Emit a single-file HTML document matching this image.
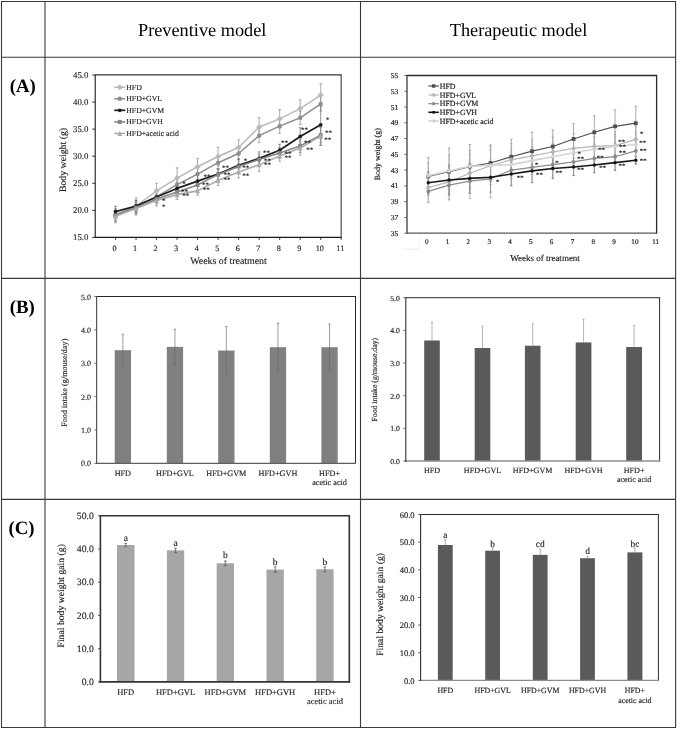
<!DOCTYPE html>
<html>
<head>
<meta charset="utf-8">
<title>Figure</title>
<style>
html, body { margin: 0; padding: 0; background: #ffffff; }
body { width: 677px; height: 729px; overflow: hidden; font-family: "Liberation Serif", serif; }
svg { display: block; will-change: transform; }
svg text { text-rendering: geometricPrecision; }
</style>
</head>
<body>
<svg width="677" height="729" viewBox="0 0 677 729">
<rect x="0" y="0" width="677" height="729" fill="#ffffff"/>
<line x1="1.50" y1="1.00" x2="1.50" y2="728.00" stroke="#3a3a3a" stroke-width="1.1" />
<line x1="45.00" y1="1.00" x2="45.00" y2="728.00" stroke="#3a3a3a" stroke-width="1.1" />
<line x1="360.50" y1="1.00" x2="360.50" y2="728.00" stroke="#3a3a3a" stroke-width="1.1" />
<line x1="675.60" y1="1.00" x2="675.60" y2="728.00" stroke="#3a3a3a" stroke-width="1.1" />
<line x1="1.00" y1="1.50" x2="676.00" y2="1.50" stroke="#3a3a3a" stroke-width="1.1" />
<line x1="1.00" y1="57.20" x2="676.00" y2="57.20" stroke="#3a3a3a" stroke-width="1.1" />
<line x1="1.00" y1="278.40" x2="676.00" y2="278.40" stroke="#3a3a3a" stroke-width="1.1" />
<line x1="1.00" y1="499.40" x2="676.00" y2="499.40" stroke="#3a3a3a" stroke-width="1.1" />
<line x1="1.00" y1="727.50" x2="676.00" y2="727.50" stroke="#3a3a3a" stroke-width="1.1" />
<text x="202.20" y="36.10" font-family='"Liberation Serif", serif' font-size="18.3" text-anchor="middle" font-weight="normal" fill="#000" >Preventive model</text>
<text x="518.50" y="36.10" font-family='"Liberation Serif", serif' font-size="18.3" text-anchor="middle" font-weight="normal" fill="#000" >Therapeutic model</text>
<text x="22.70" y="92.10" font-family='"Liberation Serif", serif' font-size="18.8" text-anchor="middle" font-weight="bold" fill="#000" >(A)</text>
<text x="22.20" y="313.00" font-family='"Liberation Serif", serif' font-size="18.8" text-anchor="middle" font-weight="bold" fill="#000" >(B)</text>
<text x="21.60" y="533.90" font-family='"Liberation Serif", serif' font-size="18.8" text-anchor="middle" font-weight="bold" fill="#000" >(C)</text>
<line x1="94.70" y1="74.85" x2="341.65" y2="74.85" stroke="#333" stroke-width="1.05" />
<line x1="341.15" y1="74.85" x2="341.15" y2="237.90" stroke="#333" stroke-width="1.05" />
<line x1="95.20" y1="75.00" x2="95.20" y2="237.90" stroke="#1a1a1a" stroke-width="1.1" />
<line x1="94.70" y1="237.40" x2="341.50" y2="237.40" stroke="#1a1a1a" stroke-width="1.1" />
<line x1="92.20" y1="237.40" x2="95.20" y2="237.40" stroke="#222" stroke-width="0.9" />
<text x="88.40" y="240.40" font-family='"Liberation Serif", serif' font-size="8.8" text-anchor="end" font-weight="normal" fill="#222" stroke="#222" stroke-width="0.14">15.0</text>
<line x1="92.20" y1="210.33" x2="95.20" y2="210.33" stroke="#222" stroke-width="0.9" />
<text x="88.40" y="213.33" font-family='"Liberation Serif", serif' font-size="8.8" text-anchor="end" font-weight="normal" fill="#222" stroke="#222" stroke-width="0.14">20.0</text>
<line x1="92.20" y1="183.27" x2="95.20" y2="183.27" stroke="#222" stroke-width="0.9" />
<text x="88.40" y="186.27" font-family='"Liberation Serif", serif' font-size="8.8" text-anchor="end" font-weight="normal" fill="#222" stroke="#222" stroke-width="0.14">25.0</text>
<line x1="92.20" y1="156.20" x2="95.20" y2="156.20" stroke="#222" stroke-width="0.9" />
<text x="88.40" y="159.20" font-family='"Liberation Serif", serif' font-size="8.8" text-anchor="end" font-weight="normal" fill="#222" stroke="#222" stroke-width="0.14">30.0</text>
<line x1="92.20" y1="129.13" x2="95.20" y2="129.13" stroke="#222" stroke-width="0.9" />
<text x="88.40" y="132.13" font-family='"Liberation Serif", serif' font-size="8.8" text-anchor="end" font-weight="normal" fill="#222" stroke="#222" stroke-width="0.14">35.0</text>
<line x1="92.20" y1="102.07" x2="95.20" y2="102.07" stroke="#222" stroke-width="0.9" />
<text x="88.40" y="105.07" font-family='"Liberation Serif", serif' font-size="8.8" text-anchor="end" font-weight="normal" fill="#222" stroke="#222" stroke-width="0.14">40.0</text>
<line x1="92.20" y1="75.00" x2="95.20" y2="75.00" stroke="#222" stroke-width="0.9" />
<text x="88.40" y="78.00" font-family='"Liberation Serif", serif' font-size="8.8" text-anchor="end" font-weight="normal" fill="#222" stroke="#222" stroke-width="0.14">45.0</text>
<line x1="115.50" y1="237.40" x2="115.50" y2="239.90" stroke="#222" stroke-width="0.9" />
<text x="114.60" y="250.80" font-family='"Liberation Serif", serif' font-size="8.2" text-anchor="middle" font-weight="normal" fill="#222" stroke="#222" stroke-width="0.14">0</text>
<line x1="136.02" y1="237.40" x2="136.02" y2="239.90" stroke="#222" stroke-width="0.9" />
<text x="135.12" y="250.80" font-family='"Liberation Serif", serif' font-size="8.2" text-anchor="middle" font-weight="normal" fill="#222" stroke="#222" stroke-width="0.14">1</text>
<line x1="156.54" y1="237.40" x2="156.54" y2="239.90" stroke="#222" stroke-width="0.9" />
<text x="155.64" y="250.80" font-family='"Liberation Serif", serif' font-size="8.2" text-anchor="middle" font-weight="normal" fill="#222" stroke="#222" stroke-width="0.14">2</text>
<line x1="177.06" y1="237.40" x2="177.06" y2="239.90" stroke="#222" stroke-width="0.9" />
<text x="176.16" y="250.80" font-family='"Liberation Serif", serif' font-size="8.2" text-anchor="middle" font-weight="normal" fill="#222" stroke="#222" stroke-width="0.14">3</text>
<line x1="197.58" y1="237.40" x2="197.58" y2="239.90" stroke="#222" stroke-width="0.9" />
<text x="196.68" y="250.80" font-family='"Liberation Serif", serif' font-size="8.2" text-anchor="middle" font-weight="normal" fill="#222" stroke="#222" stroke-width="0.14">4</text>
<line x1="218.10" y1="237.40" x2="218.10" y2="239.90" stroke="#222" stroke-width="0.9" />
<text x="217.20" y="250.80" font-family='"Liberation Serif", serif' font-size="8.2" text-anchor="middle" font-weight="normal" fill="#222" stroke="#222" stroke-width="0.14">5</text>
<line x1="238.62" y1="237.40" x2="238.62" y2="239.90" stroke="#222" stroke-width="0.9" />
<text x="237.72" y="250.80" font-family='"Liberation Serif", serif' font-size="8.2" text-anchor="middle" font-weight="normal" fill="#222" stroke="#222" stroke-width="0.14">6</text>
<line x1="259.14" y1="237.40" x2="259.14" y2="239.90" stroke="#222" stroke-width="0.9" />
<text x="258.24" y="250.80" font-family='"Liberation Serif", serif' font-size="8.2" text-anchor="middle" font-weight="normal" fill="#222" stroke="#222" stroke-width="0.14">7</text>
<line x1="279.66" y1="237.40" x2="279.66" y2="239.90" stroke="#222" stroke-width="0.9" />
<text x="278.76" y="250.80" font-family='"Liberation Serif", serif' font-size="8.2" text-anchor="middle" font-weight="normal" fill="#222" stroke="#222" stroke-width="0.14">8</text>
<line x1="300.18" y1="237.40" x2="300.18" y2="239.90" stroke="#222" stroke-width="0.9" />
<text x="299.28" y="250.80" font-family='"Liberation Serif", serif' font-size="8.2" text-anchor="middle" font-weight="normal" fill="#222" stroke="#222" stroke-width="0.14">9</text>
<line x1="320.70" y1="237.40" x2="320.70" y2="239.90" stroke="#222" stroke-width="0.9" />
<text x="319.80" y="250.80" font-family='"Liberation Serif", serif' font-size="8.2" text-anchor="middle" font-weight="normal" fill="#222" stroke="#222" stroke-width="0.14">10</text>
<line x1="341.22" y1="237.40" x2="341.22" y2="239.90" stroke="#222" stroke-width="0.9" />
<text x="340.32" y="250.80" font-family='"Liberation Serif", serif' font-size="8.2" text-anchor="middle" font-weight="normal" fill="#222" stroke="#222" stroke-width="0.14">11</text>
<text transform="translate(65.50,160.00) rotate(-90)" font-family='"Liberation Serif", serif' font-size="9.8" text-anchor="middle" font-weight="normal" fill="#222" stroke="#222" stroke-width="0.14">Body weight (g)</text>
<text x="228.50" y="263.80" font-family='"Liberation Serif", serif' font-size="9.9" text-anchor="middle" font-weight="normal" fill="#222" stroke="#222" stroke-width="0.14">Weeks of treatment</text>
<line x1="115.50" y1="208.71" x2="115.50" y2="222.78" stroke="#8a8a8a" stroke-width="0.7" />
<line x1="114.10" y1="208.71" x2="116.90" y2="208.71" stroke="#8a8a8a" stroke-width="0.7" />
<line x1="114.10" y1="222.78" x2="116.90" y2="222.78" stroke="#8a8a8a" stroke-width="0.7" />
<line x1="136.02" y1="197.88" x2="136.02" y2="214.12" stroke="#8a8a8a" stroke-width="0.7" />
<line x1="134.62" y1="197.88" x2="137.42" y2="197.88" stroke="#8a8a8a" stroke-width="0.7" />
<line x1="134.62" y1="214.12" x2="137.42" y2="214.12" stroke="#8a8a8a" stroke-width="0.7" />
<line x1="156.54" y1="183.27" x2="156.54" y2="198.42" stroke="#8a8a8a" stroke-width="0.7" />
<line x1="155.14" y1="183.27" x2="157.94" y2="183.27" stroke="#8a8a8a" stroke-width="0.7" />
<line x1="155.14" y1="198.42" x2="157.94" y2="198.42" stroke="#8a8a8a" stroke-width="0.7" />
<line x1="177.06" y1="167.84" x2="177.06" y2="188.41" stroke="#8a8a8a" stroke-width="0.7" />
<line x1="175.66" y1="167.84" x2="178.46" y2="167.84" stroke="#8a8a8a" stroke-width="0.7" />
<line x1="175.66" y1="188.41" x2="178.46" y2="188.41" stroke="#8a8a8a" stroke-width="0.7" />
<line x1="197.58" y1="158.64" x2="197.58" y2="174.88" stroke="#8a8a8a" stroke-width="0.7" />
<line x1="196.18" y1="158.64" x2="198.98" y2="158.64" stroke="#8a8a8a" stroke-width="0.7" />
<line x1="196.18" y1="174.88" x2="198.98" y2="174.88" stroke="#8a8a8a" stroke-width="0.7" />
<line x1="218.10" y1="147.27" x2="218.10" y2="165.67" stroke="#8a8a8a" stroke-width="0.7" />
<line x1="216.70" y1="147.27" x2="219.50" y2="147.27" stroke="#8a8a8a" stroke-width="0.7" />
<line x1="216.70" y1="165.67" x2="219.50" y2="165.67" stroke="#8a8a8a" stroke-width="0.7" />
<line x1="238.62" y1="139.96" x2="238.62" y2="155.12" stroke="#8a8a8a" stroke-width="0.7" />
<line x1="237.22" y1="139.96" x2="240.02" y2="139.96" stroke="#8a8a8a" stroke-width="0.7" />
<line x1="237.22" y1="155.12" x2="240.02" y2="155.12" stroke="#8a8a8a" stroke-width="0.7" />
<line x1="259.14" y1="117.77" x2="259.14" y2="136.17" stroke="#8a8a8a" stroke-width="0.7" />
<line x1="257.74" y1="117.77" x2="260.54" y2="117.77" stroke="#8a8a8a" stroke-width="0.7" />
<line x1="257.74" y1="136.17" x2="260.54" y2="136.17" stroke="#8a8a8a" stroke-width="0.7" />
<line x1="279.66" y1="109.65" x2="279.66" y2="128.05" stroke="#8a8a8a" stroke-width="0.7" />
<line x1="278.26" y1="109.65" x2="281.06" y2="109.65" stroke="#8a8a8a" stroke-width="0.7" />
<line x1="278.26" y1="128.05" x2="281.06" y2="128.05" stroke="#8a8a8a" stroke-width="0.7" />
<line x1="300.18" y1="99.90" x2="300.18" y2="117.22" stroke="#8a8a8a" stroke-width="0.7" />
<line x1="298.78" y1="99.90" x2="301.58" y2="99.90" stroke="#8a8a8a" stroke-width="0.7" />
<line x1="298.78" y1="117.22" x2="301.58" y2="117.22" stroke="#8a8a8a" stroke-width="0.7" />
<line x1="320.70" y1="83.66" x2="320.70" y2="106.40" stroke="#8a8a8a" stroke-width="0.7" />
<line x1="319.30" y1="83.66" x2="322.10" y2="83.66" stroke="#8a8a8a" stroke-width="0.7" />
<line x1="319.30" y1="106.40" x2="322.10" y2="106.40" stroke="#8a8a8a" stroke-width="0.7" />
<line x1="115.50" y1="209.25" x2="115.50" y2="220.08" stroke="#8a8a8a" stroke-width="0.7" />
<line x1="114.10" y1="209.25" x2="116.90" y2="209.25" stroke="#8a8a8a" stroke-width="0.7" />
<line x1="114.10" y1="220.08" x2="116.90" y2="220.08" stroke="#8a8a8a" stroke-width="0.7" />
<line x1="136.02" y1="200.05" x2="136.02" y2="213.04" stroke="#8a8a8a" stroke-width="0.7" />
<line x1="134.62" y1="200.05" x2="137.42" y2="200.05" stroke="#8a8a8a" stroke-width="0.7" />
<line x1="134.62" y1="213.04" x2="137.42" y2="213.04" stroke="#8a8a8a" stroke-width="0.7" />
<line x1="156.54" y1="191.39" x2="156.54" y2="202.21" stroke="#8a8a8a" stroke-width="0.7" />
<line x1="155.14" y1="191.39" x2="157.94" y2="191.39" stroke="#8a8a8a" stroke-width="0.7" />
<line x1="155.14" y1="202.21" x2="157.94" y2="202.21" stroke="#8a8a8a" stroke-width="0.7" />
<line x1="177.06" y1="178.67" x2="177.06" y2="190.57" stroke="#8a8a8a" stroke-width="0.7" />
<line x1="175.66" y1="178.67" x2="178.46" y2="178.67" stroke="#8a8a8a" stroke-width="0.7" />
<line x1="175.66" y1="190.57" x2="178.46" y2="190.57" stroke="#8a8a8a" stroke-width="0.7" />
<line x1="197.58" y1="167.57" x2="197.58" y2="180.56" stroke="#8a8a8a" stroke-width="0.7" />
<line x1="196.18" y1="167.57" x2="198.98" y2="167.57" stroke="#8a8a8a" stroke-width="0.7" />
<line x1="196.18" y1="180.56" x2="198.98" y2="180.56" stroke="#8a8a8a" stroke-width="0.7" />
<line x1="218.10" y1="156.20" x2="218.10" y2="169.19" stroke="#8a8a8a" stroke-width="0.7" />
<line x1="216.70" y1="156.20" x2="219.50" y2="156.20" stroke="#8a8a8a" stroke-width="0.7" />
<line x1="216.70" y1="169.19" x2="219.50" y2="169.19" stroke="#8a8a8a" stroke-width="0.7" />
<line x1="238.62" y1="147.54" x2="238.62" y2="159.45" stroke="#8a8a8a" stroke-width="0.7" />
<line x1="237.22" y1="147.54" x2="240.02" y2="147.54" stroke="#8a8a8a" stroke-width="0.7" />
<line x1="237.22" y1="159.45" x2="240.02" y2="159.45" stroke="#8a8a8a" stroke-width="0.7" />
<line x1="259.14" y1="128.59" x2="259.14" y2="142.67" stroke="#8a8a8a" stroke-width="0.7" />
<line x1="257.74" y1="128.59" x2="260.54" y2="128.59" stroke="#8a8a8a" stroke-width="0.7" />
<line x1="257.74" y1="142.67" x2="260.54" y2="142.67" stroke="#8a8a8a" stroke-width="0.7" />
<line x1="279.66" y1="119.12" x2="279.66" y2="133.19" stroke="#8a8a8a" stroke-width="0.7" />
<line x1="278.26" y1="119.12" x2="281.06" y2="119.12" stroke="#8a8a8a" stroke-width="0.7" />
<line x1="278.26" y1="133.19" x2="281.06" y2="133.19" stroke="#8a8a8a" stroke-width="0.7" />
<line x1="300.18" y1="111.27" x2="300.18" y2="124.26" stroke="#8a8a8a" stroke-width="0.7" />
<line x1="298.78" y1="111.27" x2="301.58" y2="111.27" stroke="#8a8a8a" stroke-width="0.7" />
<line x1="298.78" y1="124.26" x2="301.58" y2="124.26" stroke="#8a8a8a" stroke-width="0.7" />
<line x1="320.70" y1="96.92" x2="320.70" y2="111.00" stroke="#8a8a8a" stroke-width="0.7" />
<line x1="319.30" y1="96.92" x2="322.10" y2="96.92" stroke="#8a8a8a" stroke-width="0.7" />
<line x1="319.30" y1="111.00" x2="322.10" y2="111.00" stroke="#8a8a8a" stroke-width="0.7" />
<line x1="115.50" y1="206.27" x2="115.50" y2="217.10" stroke="#666" stroke-width="0.7" />
<line x1="114.10" y1="206.27" x2="116.90" y2="206.27" stroke="#666" stroke-width="0.7" />
<line x1="114.10" y1="217.10" x2="116.90" y2="217.10" stroke="#666" stroke-width="0.7" />
<line x1="136.02" y1="200.59" x2="136.02" y2="211.42" stroke="#666" stroke-width="0.7" />
<line x1="134.62" y1="200.59" x2="137.42" y2="200.59" stroke="#666" stroke-width="0.7" />
<line x1="134.62" y1="211.42" x2="137.42" y2="211.42" stroke="#666" stroke-width="0.7" />
<line x1="156.54" y1="191.66" x2="156.54" y2="202.48" stroke="#666" stroke-width="0.7" />
<line x1="155.14" y1="191.66" x2="157.94" y2="191.66" stroke="#666" stroke-width="0.7" />
<line x1="155.14" y1="202.48" x2="157.94" y2="202.48" stroke="#666" stroke-width="0.7" />
<line x1="177.06" y1="183.00" x2="177.06" y2="193.82" stroke="#666" stroke-width="0.7" />
<line x1="175.66" y1="183.00" x2="178.46" y2="183.00" stroke="#666" stroke-width="0.7" />
<line x1="175.66" y1="193.82" x2="178.46" y2="193.82" stroke="#666" stroke-width="0.7" />
<line x1="197.58" y1="175.69" x2="197.58" y2="186.51" stroke="#666" stroke-width="0.7" />
<line x1="196.18" y1="175.69" x2="198.98" y2="175.69" stroke="#666" stroke-width="0.7" />
<line x1="196.18" y1="186.51" x2="198.98" y2="186.51" stroke="#666" stroke-width="0.7" />
<line x1="218.10" y1="168.65" x2="218.10" y2="179.48" stroke="#666" stroke-width="0.7" />
<line x1="216.70" y1="168.65" x2="219.50" y2="168.65" stroke="#666" stroke-width="0.7" />
<line x1="216.70" y1="179.48" x2="219.50" y2="179.48" stroke="#666" stroke-width="0.7" />
<line x1="238.62" y1="158.91" x2="238.62" y2="171.90" stroke="#666" stroke-width="0.7" />
<line x1="237.22" y1="158.91" x2="240.02" y2="158.91" stroke="#666" stroke-width="0.7" />
<line x1="237.22" y1="171.90" x2="240.02" y2="171.90" stroke="#666" stroke-width="0.7" />
<line x1="259.14" y1="151.87" x2="259.14" y2="164.86" stroke="#666" stroke-width="0.7" />
<line x1="257.74" y1="151.87" x2="260.54" y2="151.87" stroke="#666" stroke-width="0.7" />
<line x1="257.74" y1="164.86" x2="260.54" y2="164.86" stroke="#666" stroke-width="0.7" />
<line x1="279.66" y1="144.29" x2="279.66" y2="156.20" stroke="#666" stroke-width="0.7" />
<line x1="278.26" y1="144.29" x2="281.06" y2="144.29" stroke="#666" stroke-width="0.7" />
<line x1="278.26" y1="156.20" x2="281.06" y2="156.20" stroke="#666" stroke-width="0.7" />
<line x1="300.18" y1="127.78" x2="300.18" y2="145.10" stroke="#666" stroke-width="0.7" />
<line x1="298.78" y1="127.78" x2="301.58" y2="127.78" stroke="#666" stroke-width="0.7" />
<line x1="298.78" y1="145.10" x2="301.58" y2="145.10" stroke="#666" stroke-width="0.7" />
<line x1="320.70" y1="104.23" x2="320.70" y2="145.37" stroke="#666" stroke-width="0.7" />
<line x1="319.30" y1="104.23" x2="322.10" y2="104.23" stroke="#666" stroke-width="0.7" />
<line x1="319.30" y1="145.37" x2="322.10" y2="145.37" stroke="#666" stroke-width="0.7" />
<line x1="115.50" y1="210.87" x2="115.50" y2="220.62" stroke="#8a8a8a" stroke-width="0.7" />
<line x1="114.10" y1="210.87" x2="116.90" y2="210.87" stroke="#8a8a8a" stroke-width="0.7" />
<line x1="114.10" y1="220.62" x2="116.90" y2="220.62" stroke="#8a8a8a" stroke-width="0.7" />
<line x1="136.02" y1="202.75" x2="136.02" y2="212.50" stroke="#8a8a8a" stroke-width="0.7" />
<line x1="134.62" y1="202.75" x2="137.42" y2="202.75" stroke="#8a8a8a" stroke-width="0.7" />
<line x1="134.62" y1="212.50" x2="137.42" y2="212.50" stroke="#8a8a8a" stroke-width="0.7" />
<line x1="156.54" y1="194.09" x2="156.54" y2="203.84" stroke="#8a8a8a" stroke-width="0.7" />
<line x1="155.14" y1="194.09" x2="157.94" y2="194.09" stroke="#8a8a8a" stroke-width="0.7" />
<line x1="155.14" y1="203.84" x2="157.94" y2="203.84" stroke="#8a8a8a" stroke-width="0.7" />
<line x1="177.06" y1="187.06" x2="177.06" y2="196.80" stroke="#8a8a8a" stroke-width="0.7" />
<line x1="175.66" y1="187.06" x2="178.46" y2="187.06" stroke="#8a8a8a" stroke-width="0.7" />
<line x1="175.66" y1="196.80" x2="178.46" y2="196.80" stroke="#8a8a8a" stroke-width="0.7" />
<line x1="197.58" y1="180.02" x2="197.58" y2="189.76" stroke="#8a8a8a" stroke-width="0.7" />
<line x1="196.18" y1="180.02" x2="198.98" y2="180.02" stroke="#8a8a8a" stroke-width="0.7" />
<line x1="196.18" y1="189.76" x2="198.98" y2="189.76" stroke="#8a8a8a" stroke-width="0.7" />
<line x1="218.10" y1="169.19" x2="218.10" y2="180.02" stroke="#8a8a8a" stroke-width="0.7" />
<line x1="216.70" y1="169.19" x2="219.50" y2="169.19" stroke="#8a8a8a" stroke-width="0.7" />
<line x1="216.70" y1="180.02" x2="219.50" y2="180.02" stroke="#8a8a8a" stroke-width="0.7" />
<line x1="238.62" y1="161.07" x2="238.62" y2="171.90" stroke="#8a8a8a" stroke-width="0.7" />
<line x1="237.22" y1="161.07" x2="240.02" y2="161.07" stroke="#8a8a8a" stroke-width="0.7" />
<line x1="237.22" y1="171.90" x2="240.02" y2="171.90" stroke="#8a8a8a" stroke-width="0.7" />
<line x1="259.14" y1="154.03" x2="259.14" y2="164.86" stroke="#8a8a8a" stroke-width="0.7" />
<line x1="257.74" y1="154.03" x2="260.54" y2="154.03" stroke="#8a8a8a" stroke-width="0.7" />
<line x1="257.74" y1="164.86" x2="260.54" y2="164.86" stroke="#8a8a8a" stroke-width="0.7" />
<line x1="279.66" y1="147.54" x2="279.66" y2="158.37" stroke="#8a8a8a" stroke-width="0.7" />
<line x1="278.26" y1="147.54" x2="281.06" y2="147.54" stroke="#8a8a8a" stroke-width="0.7" />
<line x1="278.26" y1="158.37" x2="281.06" y2="158.37" stroke="#8a8a8a" stroke-width="0.7" />
<line x1="300.18" y1="139.42" x2="300.18" y2="152.41" stroke="#8a8a8a" stroke-width="0.7" />
<line x1="298.78" y1="139.42" x2="301.58" y2="139.42" stroke="#8a8a8a" stroke-width="0.7" />
<line x1="298.78" y1="152.41" x2="301.58" y2="152.41" stroke="#8a8a8a" stroke-width="0.7" />
<line x1="320.70" y1="127.51" x2="320.70" y2="142.67" stroke="#8a8a8a" stroke-width="0.7" />
<line x1="319.30" y1="127.51" x2="322.10" y2="127.51" stroke="#8a8a8a" stroke-width="0.7" />
<line x1="319.30" y1="142.67" x2="322.10" y2="142.67" stroke="#8a8a8a" stroke-width="0.7" />
<line x1="115.50" y1="210.87" x2="115.50" y2="221.70" stroke="#8a8a8a" stroke-width="0.7" />
<line x1="114.10" y1="210.87" x2="116.90" y2="210.87" stroke="#8a8a8a" stroke-width="0.7" />
<line x1="114.10" y1="221.70" x2="116.90" y2="221.70" stroke="#8a8a8a" stroke-width="0.7" />
<line x1="136.02" y1="201.94" x2="136.02" y2="214.93" stroke="#8a8a8a" stroke-width="0.7" />
<line x1="134.62" y1="201.94" x2="137.42" y2="201.94" stroke="#8a8a8a" stroke-width="0.7" />
<line x1="134.62" y1="214.93" x2="137.42" y2="214.93" stroke="#8a8a8a" stroke-width="0.7" />
<line x1="156.54" y1="195.18" x2="156.54" y2="206.00" stroke="#8a8a8a" stroke-width="0.7" />
<line x1="155.14" y1="195.18" x2="157.94" y2="195.18" stroke="#8a8a8a" stroke-width="0.7" />
<line x1="155.14" y1="206.00" x2="157.94" y2="206.00" stroke="#8a8a8a" stroke-width="0.7" />
<line x1="177.06" y1="189.76" x2="177.06" y2="199.51" stroke="#8a8a8a" stroke-width="0.7" />
<line x1="175.66" y1="189.76" x2="178.46" y2="189.76" stroke="#8a8a8a" stroke-width="0.7" />
<line x1="175.66" y1="199.51" x2="178.46" y2="199.51" stroke="#8a8a8a" stroke-width="0.7" />
<line x1="197.58" y1="186.51" x2="197.58" y2="195.18" stroke="#8a8a8a" stroke-width="0.7" />
<line x1="196.18" y1="186.51" x2="198.98" y2="186.51" stroke="#8a8a8a" stroke-width="0.7" />
<line x1="196.18" y1="195.18" x2="198.98" y2="195.18" stroke="#8a8a8a" stroke-width="0.7" />
<line x1="218.10" y1="175.69" x2="218.10" y2="185.43" stroke="#8a8a8a" stroke-width="0.7" />
<line x1="216.70" y1="175.69" x2="219.50" y2="175.69" stroke="#8a8a8a" stroke-width="0.7" />
<line x1="216.70" y1="185.43" x2="219.50" y2="185.43" stroke="#8a8a8a" stroke-width="0.7" />
<line x1="238.62" y1="165.94" x2="238.62" y2="177.85" stroke="#8a8a8a" stroke-width="0.7" />
<line x1="237.22" y1="165.94" x2="240.02" y2="165.94" stroke="#8a8a8a" stroke-width="0.7" />
<line x1="237.22" y1="177.85" x2="240.02" y2="177.85" stroke="#8a8a8a" stroke-width="0.7" />
<line x1="259.14" y1="158.37" x2="259.14" y2="171.36" stroke="#8a8a8a" stroke-width="0.7" />
<line x1="257.74" y1="158.37" x2="260.54" y2="158.37" stroke="#8a8a8a" stroke-width="0.7" />
<line x1="257.74" y1="171.36" x2="260.54" y2="171.36" stroke="#8a8a8a" stroke-width="0.7" />
<line x1="279.66" y1="150.52" x2="279.66" y2="161.34" stroke="#8a8a8a" stroke-width="0.7" />
<line x1="278.26" y1="150.52" x2="281.06" y2="150.52" stroke="#8a8a8a" stroke-width="0.7" />
<line x1="278.26" y1="161.34" x2="281.06" y2="161.34" stroke="#8a8a8a" stroke-width="0.7" />
<line x1="300.18" y1="141.04" x2="300.18" y2="155.12" stroke="#8a8a8a" stroke-width="0.7" />
<line x1="298.78" y1="141.04" x2="301.58" y2="141.04" stroke="#8a8a8a" stroke-width="0.7" />
<line x1="298.78" y1="155.12" x2="301.58" y2="155.12" stroke="#8a8a8a" stroke-width="0.7" />
<line x1="320.70" y1="126.97" x2="320.70" y2="145.37" stroke="#8a8a8a" stroke-width="0.7" />
<line x1="319.30" y1="126.97" x2="322.10" y2="126.97" stroke="#8a8a8a" stroke-width="0.7" />
<line x1="319.30" y1="145.37" x2="322.10" y2="145.37" stroke="#8a8a8a" stroke-width="0.7" />
<polyline points="115.50,215.75 136.02,206.00 156.54,190.85 177.06,178.12 197.58,166.76 218.10,156.47 238.62,147.54 259.14,126.97 279.66,118.85 300.18,108.56 320.70,95.03" fill="none" stroke="#b9b9b9" stroke-width="1.5" stroke-linejoin="round"/>
<path d="M115.50,212.75 L118.50,215.75 L115.50,218.75 L112.50,215.75 Z" fill="#b9b9b9"/>
<path d="M136.02,203.00 L139.02,206.00 L136.02,209.00 L133.02,206.00 Z" fill="#b9b9b9"/>
<path d="M156.54,187.85 L159.54,190.85 L156.54,193.85 L153.54,190.85 Z" fill="#b9b9b9"/>
<path d="M177.06,175.12 L180.06,178.12 L177.06,181.12 L174.06,178.12 Z" fill="#b9b9b9"/>
<path d="M197.58,163.76 L200.58,166.76 L197.58,169.76 L194.58,166.76 Z" fill="#b9b9b9"/>
<path d="M218.10,153.47 L221.10,156.47 L218.10,159.47 L215.10,156.47 Z" fill="#b9b9b9"/>
<path d="M238.62,144.54 L241.62,147.54 L238.62,150.54 L235.62,147.54 Z" fill="#b9b9b9"/>
<path d="M259.14,123.97 L262.14,126.97 L259.14,129.97 L256.14,126.97 Z" fill="#b9b9b9"/>
<path d="M279.66,115.85 L282.66,118.85 L279.66,121.85 L276.66,118.85 Z" fill="#b9b9b9"/>
<path d="M300.18,105.56 L303.18,108.56 L300.18,111.56 L297.18,108.56 Z" fill="#b9b9b9"/>
<path d="M320.70,92.03 L323.70,95.03 L320.70,98.03 L317.70,95.03 Z" fill="#b9b9b9"/>
<polyline points="115.50,214.66 136.02,206.54 156.54,196.80 177.06,184.62 197.58,174.06 218.10,162.70 238.62,153.49 259.14,135.63 279.66,126.16 300.18,117.77 320.70,103.96" fill="none" stroke="#8d8d8d" stroke-width="1.5" stroke-linejoin="round"/>
<circle cx="115.50" cy="214.66" r="2.20" fill="#8d8d8d"/>
<circle cx="136.02" cy="206.54" r="2.20" fill="#8d8d8d"/>
<circle cx="156.54" cy="196.80" r="2.20" fill="#8d8d8d"/>
<circle cx="177.06" cy="184.62" r="2.20" fill="#8d8d8d"/>
<circle cx="197.58" cy="174.06" r="2.20" fill="#8d8d8d"/>
<circle cx="218.10" cy="162.70" r="2.20" fill="#8d8d8d"/>
<circle cx="238.62" cy="153.49" r="2.20" fill="#8d8d8d"/>
<circle cx="259.14" cy="135.63" r="2.20" fill="#8d8d8d"/>
<circle cx="279.66" cy="126.16" r="2.20" fill="#8d8d8d"/>
<circle cx="300.18" cy="117.77" r="2.20" fill="#8d8d8d"/>
<circle cx="320.70" cy="103.96" r="2.20" fill="#8d8d8d"/>
<polyline points="115.50,211.69 136.02,206.00 156.54,197.07 177.06,188.41 197.58,181.10 218.10,174.06 238.62,165.40 259.14,158.37 279.66,150.25 300.18,136.44 320.70,124.80" fill="none" stroke="#1c1c1c" stroke-width="1.7" stroke-linejoin="round"/>
<circle cx="115.50" cy="211.69" r="1.90" fill="#1c1c1c"/>
<circle cx="136.02" cy="206.00" r="1.90" fill="#1c1c1c"/>
<circle cx="156.54" cy="197.07" r="1.90" fill="#1c1c1c"/>
<circle cx="177.06" cy="188.41" r="1.90" fill="#1c1c1c"/>
<circle cx="197.58" cy="181.10" r="1.90" fill="#1c1c1c"/>
<circle cx="218.10" cy="174.06" r="1.90" fill="#1c1c1c"/>
<circle cx="238.62" cy="165.40" r="1.90" fill="#1c1c1c"/>
<circle cx="259.14" cy="158.37" r="1.90" fill="#1c1c1c"/>
<circle cx="279.66" cy="150.25" r="1.90" fill="#1c1c1c"/>
<circle cx="300.18" cy="136.44" r="1.90" fill="#1c1c1c"/>
<circle cx="320.70" cy="124.80" r="1.90" fill="#1c1c1c"/>
<polyline points="115.50,215.75 136.02,207.63 156.54,198.97 177.06,191.93 197.58,184.89 218.10,174.61 238.62,166.49 259.14,159.45 279.66,152.95 300.18,145.91 320.70,135.09" fill="none" stroke="#868686" stroke-width="1.6" stroke-linejoin="round"/>
<rect x="113.50" y="213.75" width="4.00" height="4.00" fill="#868686" stroke="none" stroke-width="1" />
<rect x="134.02" y="205.63" width="4.00" height="4.00" fill="#868686" stroke="none" stroke-width="1" />
<rect x="154.54" y="196.97" width="4.00" height="4.00" fill="#868686" stroke="none" stroke-width="1" />
<rect x="175.06" y="189.93" width="4.00" height="4.00" fill="#868686" stroke="none" stroke-width="1" />
<rect x="195.58" y="182.89" width="4.00" height="4.00" fill="#868686" stroke="none" stroke-width="1" />
<rect x="216.10" y="172.61" width="4.00" height="4.00" fill="#868686" stroke="none" stroke-width="1" />
<rect x="236.62" y="164.49" width="4.00" height="4.00" fill="#868686" stroke="none" stroke-width="1" />
<rect x="257.14" y="157.45" width="4.00" height="4.00" fill="#868686" stroke="none" stroke-width="1" />
<rect x="277.66" y="150.95" width="4.00" height="4.00" fill="#868686" stroke="none" stroke-width="1" />
<rect x="298.18" y="143.91" width="4.00" height="4.00" fill="#868686" stroke="none" stroke-width="1" />
<rect x="318.70" y="133.09" width="4.00" height="4.00" fill="#868686" stroke="none" stroke-width="1" />
<polyline points="115.50,216.29 136.02,208.44 156.54,200.59 177.06,194.63 197.58,190.85 218.10,180.56 238.62,171.90 259.14,164.86 279.66,155.93 300.18,148.08 320.70,136.17" fill="none" stroke="#acacac" stroke-width="1.6" stroke-linejoin="round"/>
<path d="M115.50,213.79 L118.00,218.79 L113.00,218.79 Z" fill="#acacac"/>
<path d="M136.02,205.94 L138.52,210.94 L133.52,210.94 Z" fill="#acacac"/>
<path d="M156.54,198.09 L159.04,203.09 L154.04,203.09 Z" fill="#acacac"/>
<path d="M177.06,192.13 L179.56,197.13 L174.56,197.13 Z" fill="#acacac"/>
<path d="M197.58,188.35 L200.08,193.35 L195.08,193.35 Z" fill="#acacac"/>
<path d="M218.10,178.06 L220.60,183.06 L215.60,183.06 Z" fill="#acacac"/>
<path d="M238.62,169.40 L241.12,174.40 L236.12,174.40 Z" fill="#acacac"/>
<path d="M259.14,162.36 L261.64,167.36 L256.64,167.36 Z" fill="#acacac"/>
<path d="M279.66,153.43 L282.16,158.43 L277.16,158.43 Z" fill="#acacac"/>
<path d="M300.18,145.58 L302.68,150.58 L297.68,150.58 Z" fill="#acacac"/>
<path d="M320.70,133.67 L323.20,138.67 L318.20,138.67 Z" fill="#acacac"/>
<line x1="114.30" y1="87.20" x2="125.30" y2="87.20" stroke="#b9b9b9" stroke-width="1.5" />
<path d="M119.80,84.20 L122.80,87.20 L119.80,90.20 L116.80,87.20 Z" fill="#b9b9b9"/>
<text x="126.30" y="89.60" font-family='"Liberation Serif", serif' font-size="7.72" text-anchor="start" font-weight="normal" fill="#222" stroke="#222" stroke-width="0.14">HFD</text>
<line x1="114.30" y1="98.80" x2="125.30" y2="98.80" stroke="#8d8d8d" stroke-width="1.5" />
<circle cx="119.80" cy="98.80" r="2.20" fill="#8d8d8d"/>
<text x="126.30" y="101.20" font-family='"Liberation Serif", serif' font-size="7.72" text-anchor="start" font-weight="normal" fill="#222" stroke="#222" stroke-width="0.14">HFD+GVL</text>
<line x1="114.30" y1="110.30" x2="125.30" y2="110.30" stroke="#1c1c1c" stroke-width="1.7" />
<circle cx="119.80" cy="110.30" r="1.90" fill="#1c1c1c"/>
<text x="126.30" y="112.70" font-family='"Liberation Serif", serif' font-size="7.72" text-anchor="start" font-weight="normal" fill="#222" stroke="#222" stroke-width="0.14">HFD+GVM</text>
<line x1="114.30" y1="121.90" x2="125.30" y2="121.90" stroke="#868686" stroke-width="1.6" />
<rect x="117.80" y="119.90" width="4.00" height="4.00" fill="#868686" stroke="none" stroke-width="1" />
<text x="126.30" y="124.30" font-family='"Liberation Serif", serif' font-size="7.72" text-anchor="start" font-weight="normal" fill="#222" stroke="#222" stroke-width="0.14">HFD+GVH</text>
<line x1="114.30" y1="133.40" x2="125.30" y2="133.40" stroke="#acacac" stroke-width="1.6" />
<path d="M119.80,130.90 L122.30,135.90 L117.30,135.90 Z" fill="#acacac"/>
<text x="126.30" y="135.80" font-family='"Liberation Serif", serif' font-size="7.72" text-anchor="start" font-weight="normal" fill="#222" stroke="#222" stroke-width="0.14">HFD+acetic acid</text>
<text x="163.80" y="202.89" font-family='"Liberation Serif", serif' font-size="7.0" text-anchor="middle" font-weight="normal" fill="#1a1a1a" stroke="#1a1a1a" stroke-width="0.1">*</text>
<text x="163.80" y="208.79" font-family='"Liberation Serif", serif' font-size="7.0" text-anchor="middle" font-weight="normal" fill="#1a1a1a" stroke="#1a1a1a" stroke-width="0.1">*</text>
<text x="183.90" y="185.79" font-family='"Liberation Serif", serif' font-size="7.0" text-anchor="middle" font-weight="normal" fill="#1a1a1a" stroke="#1a1a1a" stroke-width="0.1">*</text>
<text x="184.60" y="193.59" font-family='"Liberation Serif", serif' font-size="7.0" text-anchor="middle" font-weight="normal" fill="#1a1a1a" stroke="#1a1a1a" stroke-width="0.1">**</text>
<text x="185.70" y="197.99" font-family='"Liberation Serif", serif' font-size="7.0" text-anchor="middle" font-weight="normal" fill="#1a1a1a" stroke="#1a1a1a" stroke-width="0.1">**</text>
<text x="207.00" y="178.79" font-family='"Liberation Serif", serif' font-size="7.0" text-anchor="middle" font-weight="normal" fill="#1a1a1a" stroke="#1a1a1a" stroke-width="0.1">**</text>
<text x="205.50" y="187.29" font-family='"Liberation Serif", serif' font-size="7.0" text-anchor="middle" font-weight="normal" fill="#1a1a1a" stroke="#1a1a1a" stroke-width="0.1">**</text>
<text x="206.20" y="192.29" font-family='"Liberation Serif", serif' font-size="7.0" text-anchor="middle" font-weight="normal" fill="#1a1a1a" stroke="#1a1a1a" stroke-width="0.1">**</text>
<text x="225.50" y="169.89" font-family='"Liberation Serif", serif' font-size="7.0" text-anchor="middle" font-weight="normal" fill="#1a1a1a" stroke="#1a1a1a" stroke-width="0.1">**</text>
<text x="227.00" y="177.29" font-family='"Liberation Serif", serif' font-size="7.0" text-anchor="middle" font-weight="normal" fill="#1a1a1a" stroke="#1a1a1a" stroke-width="0.1">**</text>
<text x="227.00" y="181.79" font-family='"Liberation Serif", serif' font-size="7.0" text-anchor="middle" font-weight="normal" fill="#1a1a1a" stroke="#1a1a1a" stroke-width="0.1">**</text>
<text x="245.40" y="162.79" font-family='"Liberation Serif", serif' font-size="7.0" text-anchor="middle" font-weight="normal" fill="#1a1a1a" stroke="#1a1a1a" stroke-width="0.1">*</text>
<text x="245.80" y="170.29" font-family='"Liberation Serif", serif' font-size="7.0" text-anchor="middle" font-weight="normal" fill="#1a1a1a" stroke="#1a1a1a" stroke-width="0.1">**</text>
<text x="245.80" y="177.59" font-family='"Liberation Serif", serif' font-size="7.0" text-anchor="middle" font-weight="normal" fill="#1a1a1a" stroke="#1a1a1a" stroke-width="0.1">**</text>
<text x="266.40" y="155.19" font-family='"Liberation Serif", serif' font-size="7.0" text-anchor="middle" font-weight="normal" fill="#1a1a1a" stroke="#1a1a1a" stroke-width="0.1">**</text>
<text x="267.50" y="162.79" font-family='"Liberation Serif", serif' font-size="7.0" text-anchor="middle" font-weight="normal" fill="#1a1a1a" stroke="#1a1a1a" stroke-width="0.1">**</text>
<text x="267.50" y="167.29" font-family='"Liberation Serif", serif' font-size="7.0" text-anchor="middle" font-weight="normal" fill="#1a1a1a" stroke="#1a1a1a" stroke-width="0.1">**</text>
<text x="284.50" y="144.79" font-family='"Liberation Serif", serif' font-size="7.0" text-anchor="middle" font-weight="normal" fill="#1a1a1a" stroke="#1a1a1a" stroke-width="0.1">**</text>
<text x="288.00" y="155.79" font-family='"Liberation Serif", serif' font-size="7.0" text-anchor="middle" font-weight="normal" fill="#1a1a1a" stroke="#1a1a1a" stroke-width="0.1">**</text>
<text x="288.00" y="159.59" font-family='"Liberation Serif", serif' font-size="7.0" text-anchor="middle" font-weight="normal" fill="#1a1a1a" stroke="#1a1a1a" stroke-width="0.1">**</text>
<text x="304.50" y="132.49" font-family='"Liberation Serif", serif' font-size="7.0" text-anchor="middle" font-weight="normal" fill="#1a1a1a" stroke="#1a1a1a" stroke-width="0.1">**</text>
<text x="307.40" y="144.79" font-family='"Liberation Serif", serif' font-size="7.0" text-anchor="middle" font-weight="normal" fill="#1a1a1a" stroke="#1a1a1a" stroke-width="0.1">**</text>
<text x="309.70" y="151.69" font-family='"Liberation Serif", serif' font-size="7.0" text-anchor="middle" font-weight="normal" fill="#1a1a1a" stroke="#1a1a1a" stroke-width="0.1">**</text>
<text x="327.40" y="122.19" font-family='"Liberation Serif", serif' font-size="7.0" text-anchor="middle" font-weight="normal" fill="#1a1a1a" stroke="#1a1a1a" stroke-width="0.1">*</text>
<text x="328.40" y="134.89" font-family='"Liberation Serif", serif' font-size="7.0" text-anchor="middle" font-weight="normal" fill="#1a1a1a" stroke="#1a1a1a" stroke-width="0.1">**</text>
<text x="327.70" y="142.09" font-family='"Liberation Serif", serif' font-size="7.0" text-anchor="middle" font-weight="normal" fill="#1a1a1a" stroke="#1a1a1a" stroke-width="0.1">**</text>
<line x1="406.40" y1="75.50" x2="657.20" y2="75.50" stroke="#2a2a2a" stroke-width="1.3" />
<line x1="656.60" y1="75.50" x2="656.60" y2="233.80" stroke="#2a2a2a" stroke-width="1.3" />
<line x1="407.00" y1="75.50" x2="407.00" y2="233.80" stroke="#585858" stroke-width="1.5" />
<line x1="406.40" y1="233.20" x2="657.20" y2="233.20" stroke="#585858" stroke-width="1.3" />
<line x1="404.40" y1="233.20" x2="407.00" y2="233.20" stroke="#555" stroke-width="0.9" />
<text x="398.40" y="235.80" font-family='"Liberation Serif", serif' font-size="7.6" text-anchor="end" font-weight="normal" fill="#1a1a1a" stroke="#222" stroke-width="0.18">35</text>
<line x1="404.40" y1="217.43" x2="407.00" y2="217.43" stroke="#555" stroke-width="0.9" />
<text x="398.40" y="220.03" font-family='"Liberation Serif", serif' font-size="7.6" text-anchor="end" font-weight="normal" fill="#1a1a1a" stroke="#222" stroke-width="0.18">37</text>
<line x1="404.40" y1="201.66" x2="407.00" y2="201.66" stroke="#555" stroke-width="0.9" />
<text x="398.40" y="204.26" font-family='"Liberation Serif", serif' font-size="7.6" text-anchor="end" font-weight="normal" fill="#1a1a1a" stroke="#222" stroke-width="0.18">39</text>
<line x1="404.40" y1="185.89" x2="407.00" y2="185.89" stroke="#555" stroke-width="0.9" />
<text x="398.40" y="188.49" font-family='"Liberation Serif", serif' font-size="7.6" text-anchor="end" font-weight="normal" fill="#1a1a1a" stroke="#222" stroke-width="0.18">41</text>
<line x1="404.40" y1="170.12" x2="407.00" y2="170.12" stroke="#555" stroke-width="0.9" />
<text x="398.40" y="172.72" font-family='"Liberation Serif", serif' font-size="7.6" text-anchor="end" font-weight="normal" fill="#1a1a1a" stroke="#222" stroke-width="0.18">43</text>
<line x1="404.40" y1="154.35" x2="407.00" y2="154.35" stroke="#555" stroke-width="0.9" />
<text x="398.40" y="156.95" font-family='"Liberation Serif", serif' font-size="7.6" text-anchor="end" font-weight="normal" fill="#1a1a1a" stroke="#222" stroke-width="0.18">45</text>
<line x1="404.40" y1="138.58" x2="407.00" y2="138.58" stroke="#555" stroke-width="0.9" />
<text x="398.40" y="141.18" font-family='"Liberation Serif", serif' font-size="7.6" text-anchor="end" font-weight="normal" fill="#1a1a1a" stroke="#222" stroke-width="0.18">47</text>
<line x1="404.40" y1="122.81" x2="407.00" y2="122.81" stroke="#555" stroke-width="0.9" />
<text x="398.40" y="125.41" font-family='"Liberation Serif", serif' font-size="7.6" text-anchor="end" font-weight="normal" fill="#1a1a1a" stroke="#222" stroke-width="0.18">49</text>
<line x1="404.40" y1="107.04" x2="407.00" y2="107.04" stroke="#555" stroke-width="0.9" />
<text x="398.40" y="109.64" font-family='"Liberation Serif", serif' font-size="7.6" text-anchor="end" font-weight="normal" fill="#1a1a1a" stroke="#222" stroke-width="0.18">51</text>
<line x1="404.40" y1="91.27" x2="407.00" y2="91.27" stroke="#555" stroke-width="0.9" />
<text x="398.40" y="93.87" font-family='"Liberation Serif", serif' font-size="7.6" text-anchor="end" font-weight="normal" fill="#1a1a1a" stroke="#222" stroke-width="0.18">53</text>
<line x1="404.40" y1="75.50" x2="407.00" y2="75.50" stroke="#555" stroke-width="0.9" />
<text x="398.40" y="78.10" font-family='"Liberation Serif", serif' font-size="7.6" text-anchor="end" font-weight="normal" fill="#1a1a1a" stroke="#222" stroke-width="0.18">55</text>
<text x="426.70" y="244.10" font-family='"Liberation Serif", serif' font-size="7.1" text-anchor="middle" font-weight="normal" fill="#1a1a1a" stroke="#222" stroke-width="0.18">0</text>
<text x="447.52" y="244.10" font-family='"Liberation Serif", serif' font-size="7.1" text-anchor="middle" font-weight="normal" fill="#1a1a1a" stroke="#222" stroke-width="0.18">1</text>
<text x="468.34" y="244.10" font-family='"Liberation Serif", serif' font-size="7.1" text-anchor="middle" font-weight="normal" fill="#1a1a1a" stroke="#222" stroke-width="0.18">2</text>
<text x="489.16" y="244.10" font-family='"Liberation Serif", serif' font-size="7.1" text-anchor="middle" font-weight="normal" fill="#1a1a1a" stroke="#222" stroke-width="0.18">3</text>
<text x="509.98" y="244.10" font-family='"Liberation Serif", serif' font-size="7.1" text-anchor="middle" font-weight="normal" fill="#1a1a1a" stroke="#222" stroke-width="0.18">4</text>
<text x="530.80" y="244.10" font-family='"Liberation Serif", serif' font-size="7.1" text-anchor="middle" font-weight="normal" fill="#1a1a1a" stroke="#222" stroke-width="0.18">5</text>
<text x="551.62" y="244.10" font-family='"Liberation Serif", serif' font-size="7.1" text-anchor="middle" font-weight="normal" fill="#1a1a1a" stroke="#222" stroke-width="0.18">6</text>
<text x="572.44" y="244.10" font-family='"Liberation Serif", serif' font-size="7.1" text-anchor="middle" font-weight="normal" fill="#1a1a1a" stroke="#222" stroke-width="0.18">7</text>
<text x="593.26" y="244.10" font-family='"Liberation Serif", serif' font-size="7.1" text-anchor="middle" font-weight="normal" fill="#1a1a1a" stroke="#222" stroke-width="0.18">8</text>
<text x="614.08" y="244.10" font-family='"Liberation Serif", serif' font-size="7.1" text-anchor="middle" font-weight="normal" fill="#1a1a1a" stroke="#222" stroke-width="0.18">9</text>
<text x="634.90" y="244.10" font-family='"Liberation Serif", serif' font-size="7.1" text-anchor="middle" font-weight="normal" fill="#1a1a1a" stroke="#222" stroke-width="0.18">10</text>
<text x="655.72" y="244.10" font-family='"Liberation Serif", serif' font-size="7.1" text-anchor="middle" font-weight="normal" fill="#1a1a1a" stroke="#222" stroke-width="0.18">11</text>
<text transform="translate(380.00,154.20) rotate(-90)" font-family='"Liberation Serif", serif' font-size="7.95" text-anchor="middle" font-weight="normal" fill="#1a1a1a" stroke="#222" stroke-width="0.18">Body weight (g)</text>
<line x1="401.60" y1="249.20" x2="418.80" y2="249.20" stroke="#ececec" stroke-width="1.0" />
<line x1="419.60" y1="237.00" x2="419.60" y2="248.60" stroke="#f2f2f2" stroke-width="1.0" />
<text x="545.00" y="260.90" font-family='"Liberation Serif", serif' font-size="9.0" text-anchor="middle" font-weight="normal" fill="#1a1a1a" stroke="#1a1a1a" stroke-width="0.14">Weeks of treatment</text>
<line x1="428.30" y1="157.50" x2="428.30" y2="195.35" stroke="#858585" stroke-width="0.7" />
<line x1="427.10" y1="157.50" x2="429.50" y2="157.50" stroke="#858585" stroke-width="0.7" />
<line x1="427.10" y1="195.35" x2="429.50" y2="195.35" stroke="#858585" stroke-width="0.7" />
<line x1="449.05" y1="148.04" x2="449.05" y2="195.35" stroke="#858585" stroke-width="0.7" />
<line x1="447.85" y1="148.04" x2="450.25" y2="148.04" stroke="#858585" stroke-width="0.7" />
<line x1="447.85" y1="195.35" x2="450.25" y2="195.35" stroke="#858585" stroke-width="0.7" />
<line x1="469.80" y1="144.49" x2="469.80" y2="188.65" stroke="#858585" stroke-width="0.7" />
<line x1="468.60" y1="144.49" x2="471.00" y2="144.49" stroke="#858585" stroke-width="0.7" />
<line x1="468.60" y1="188.65" x2="471.00" y2="188.65" stroke="#858585" stroke-width="0.7" />
<line x1="490.55" y1="144.89" x2="490.55" y2="181.16" stroke="#858585" stroke-width="0.7" />
<line x1="489.35" y1="144.89" x2="491.75" y2="144.89" stroke="#858585" stroke-width="0.7" />
<line x1="489.35" y1="181.16" x2="491.75" y2="181.16" stroke="#858585" stroke-width="0.7" />
<line x1="511.30" y1="139.37" x2="511.30" y2="174.06" stroke="#858585" stroke-width="0.7" />
<line x1="510.10" y1="139.37" x2="512.50" y2="139.37" stroke="#858585" stroke-width="0.7" />
<line x1="510.10" y1="174.06" x2="512.50" y2="174.06" stroke="#858585" stroke-width="0.7" />
<line x1="532.05" y1="132.27" x2="532.05" y2="170.12" stroke="#858585" stroke-width="0.7" />
<line x1="530.85" y1="132.27" x2="533.25" y2="132.27" stroke="#858585" stroke-width="0.7" />
<line x1="530.85" y1="170.12" x2="533.25" y2="170.12" stroke="#858585" stroke-width="0.7" />
<line x1="552.80" y1="129.91" x2="552.80" y2="163.02" stroke="#858585" stroke-width="0.7" />
<line x1="551.60" y1="129.91" x2="554.00" y2="129.91" stroke="#858585" stroke-width="0.7" />
<line x1="551.60" y1="163.02" x2="554.00" y2="163.02" stroke="#858585" stroke-width="0.7" />
<line x1="573.55" y1="123.60" x2="573.55" y2="154.35" stroke="#858585" stroke-width="0.7" />
<line x1="572.35" y1="123.60" x2="574.75" y2="123.60" stroke="#858585" stroke-width="0.7" />
<line x1="572.35" y1="154.35" x2="574.75" y2="154.35" stroke="#858585" stroke-width="0.7" />
<line x1="594.30" y1="115.71" x2="594.30" y2="148.83" stroke="#858585" stroke-width="0.7" />
<line x1="593.10" y1="115.71" x2="595.50" y2="115.71" stroke="#858585" stroke-width="0.7" />
<line x1="593.10" y1="148.83" x2="595.50" y2="148.83" stroke="#858585" stroke-width="0.7" />
<line x1="615.05" y1="109.80" x2="615.05" y2="142.92" stroke="#858585" stroke-width="0.7" />
<line x1="613.85" y1="109.80" x2="616.25" y2="109.80" stroke="#858585" stroke-width="0.7" />
<line x1="613.85" y1="142.92" x2="616.25" y2="142.92" stroke="#858585" stroke-width="0.7" />
<line x1="635.80" y1="106.25" x2="635.80" y2="140.16" stroke="#858585" stroke-width="0.7" />
<line x1="634.60" y1="106.25" x2="637.00" y2="106.25" stroke="#858585" stroke-width="0.7" />
<line x1="634.60" y1="140.16" x2="637.00" y2="140.16" stroke="#858585" stroke-width="0.7" />
<line x1="428.30" y1="172.49" x2="428.30" y2="202.45" stroke="#a5a5a5" stroke-width="0.7" />
<line x1="427.10" y1="172.49" x2="429.50" y2="172.49" stroke="#a5a5a5" stroke-width="0.7" />
<line x1="427.10" y1="202.45" x2="429.50" y2="202.45" stroke="#a5a5a5" stroke-width="0.7" />
<line x1="449.05" y1="164.60" x2="449.05" y2="199.29" stroke="#a5a5a5" stroke-width="0.7" />
<line x1="447.85" y1="164.60" x2="450.25" y2="164.60" stroke="#a5a5a5" stroke-width="0.7" />
<line x1="447.85" y1="199.29" x2="450.25" y2="199.29" stroke="#a5a5a5" stroke-width="0.7" />
<line x1="469.80" y1="154.35" x2="469.80" y2="192.20" stroke="#a5a5a5" stroke-width="0.7" />
<line x1="468.60" y1="154.35" x2="471.00" y2="154.35" stroke="#a5a5a5" stroke-width="0.7" />
<line x1="468.60" y1="192.20" x2="471.00" y2="192.20" stroke="#a5a5a5" stroke-width="0.7" />
<line x1="490.55" y1="146.86" x2="490.55" y2="184.71" stroke="#a5a5a5" stroke-width="0.7" />
<line x1="489.35" y1="146.86" x2="491.75" y2="146.86" stroke="#a5a5a5" stroke-width="0.7" />
<line x1="489.35" y1="184.71" x2="491.75" y2="184.71" stroke="#a5a5a5" stroke-width="0.7" />
<line x1="511.30" y1="143.31" x2="511.30" y2="176.43" stroke="#a5a5a5" stroke-width="0.7" />
<line x1="510.10" y1="143.31" x2="512.50" y2="143.31" stroke="#a5a5a5" stroke-width="0.7" />
<line x1="510.10" y1="176.43" x2="512.50" y2="176.43" stroke="#a5a5a5" stroke-width="0.7" />
<line x1="532.05" y1="140.16" x2="532.05" y2="171.70" stroke="#a5a5a5" stroke-width="0.7" />
<line x1="530.85" y1="140.16" x2="533.25" y2="140.16" stroke="#a5a5a5" stroke-width="0.7" />
<line x1="530.85" y1="171.70" x2="533.25" y2="171.70" stroke="#a5a5a5" stroke-width="0.7" />
<line x1="552.80" y1="137.00" x2="552.80" y2="166.97" stroke="#a5a5a5" stroke-width="0.7" />
<line x1="551.60" y1="137.00" x2="554.00" y2="137.00" stroke="#a5a5a5" stroke-width="0.7" />
<line x1="551.60" y1="166.97" x2="554.00" y2="166.97" stroke="#a5a5a5" stroke-width="0.7" />
<line x1="573.55" y1="133.45" x2="573.55" y2="163.42" stroke="#a5a5a5" stroke-width="0.7" />
<line x1="572.35" y1="133.45" x2="574.75" y2="133.45" stroke="#a5a5a5" stroke-width="0.7" />
<line x1="572.35" y1="163.42" x2="574.75" y2="163.42" stroke="#a5a5a5" stroke-width="0.7" />
<line x1="594.30" y1="132.27" x2="594.30" y2="160.66" stroke="#a5a5a5" stroke-width="0.7" />
<line x1="593.10" y1="132.27" x2="595.50" y2="132.27" stroke="#a5a5a5" stroke-width="0.7" />
<line x1="593.10" y1="160.66" x2="595.50" y2="160.66" stroke="#a5a5a5" stroke-width="0.7" />
<line x1="615.05" y1="131.48" x2="615.05" y2="159.87" stroke="#a5a5a5" stroke-width="0.7" />
<line x1="613.85" y1="131.48" x2="616.25" y2="131.48" stroke="#a5a5a5" stroke-width="0.7" />
<line x1="613.85" y1="159.87" x2="616.25" y2="159.87" stroke="#a5a5a5" stroke-width="0.7" />
<line x1="635.80" y1="125.96" x2="635.80" y2="152.77" stroke="#a5a5a5" stroke-width="0.7" />
<line x1="634.60" y1="125.96" x2="637.00" y2="125.96" stroke="#a5a5a5" stroke-width="0.7" />
<line x1="634.60" y1="152.77" x2="637.00" y2="152.77" stroke="#a5a5a5" stroke-width="0.7" />
<line x1="428.30" y1="180.37" x2="428.30" y2="202.45" stroke="#a5a5a5" stroke-width="0.7" />
<line x1="427.10" y1="180.37" x2="429.50" y2="180.37" stroke="#a5a5a5" stroke-width="0.7" />
<line x1="427.10" y1="202.45" x2="429.50" y2="202.45" stroke="#a5a5a5" stroke-width="0.7" />
<line x1="449.05" y1="170.12" x2="449.05" y2="200.08" stroke="#a5a5a5" stroke-width="0.7" />
<line x1="447.85" y1="170.12" x2="450.25" y2="170.12" stroke="#a5a5a5" stroke-width="0.7" />
<line x1="447.85" y1="200.08" x2="450.25" y2="200.08" stroke="#a5a5a5" stroke-width="0.7" />
<line x1="469.80" y1="163.81" x2="469.80" y2="198.51" stroke="#a5a5a5" stroke-width="0.7" />
<line x1="468.60" y1="163.81" x2="471.00" y2="163.81" stroke="#a5a5a5" stroke-width="0.7" />
<line x1="468.60" y1="198.51" x2="471.00" y2="198.51" stroke="#a5a5a5" stroke-width="0.7" />
<line x1="490.55" y1="159.87" x2="490.55" y2="197.72" stroke="#a5a5a5" stroke-width="0.7" />
<line x1="489.35" y1="159.87" x2="491.75" y2="159.87" stroke="#a5a5a5" stroke-width="0.7" />
<line x1="489.35" y1="197.72" x2="491.75" y2="197.72" stroke="#a5a5a5" stroke-width="0.7" />
<line x1="511.30" y1="155.14" x2="511.30" y2="185.10" stroke="#a5a5a5" stroke-width="0.7" />
<line x1="510.10" y1="155.14" x2="512.50" y2="155.14" stroke="#a5a5a5" stroke-width="0.7" />
<line x1="510.10" y1="185.10" x2="512.50" y2="185.10" stroke="#a5a5a5" stroke-width="0.7" />
<line x1="532.05" y1="152.38" x2="532.05" y2="182.34" stroke="#a5a5a5" stroke-width="0.7" />
<line x1="530.85" y1="152.38" x2="533.25" y2="152.38" stroke="#a5a5a5" stroke-width="0.7" />
<line x1="530.85" y1="182.34" x2="533.25" y2="182.34" stroke="#a5a5a5" stroke-width="0.7" />
<line x1="552.80" y1="151.20" x2="552.80" y2="178.00" stroke="#a5a5a5" stroke-width="0.7" />
<line x1="551.60" y1="151.20" x2="554.00" y2="151.20" stroke="#a5a5a5" stroke-width="0.7" />
<line x1="551.60" y1="178.00" x2="554.00" y2="178.00" stroke="#a5a5a5" stroke-width="0.7" />
<line x1="573.55" y1="148.44" x2="573.55" y2="175.25" stroke="#a5a5a5" stroke-width="0.7" />
<line x1="572.35" y1="148.44" x2="574.75" y2="148.44" stroke="#a5a5a5" stroke-width="0.7" />
<line x1="572.35" y1="175.25" x2="574.75" y2="175.25" stroke="#a5a5a5" stroke-width="0.7" />
<line x1="594.30" y1="144.10" x2="594.30" y2="172.49" stroke="#a5a5a5" stroke-width="0.7" />
<line x1="593.10" y1="144.10" x2="595.50" y2="144.10" stroke="#a5a5a5" stroke-width="0.7" />
<line x1="593.10" y1="172.49" x2="595.50" y2="172.49" stroke="#a5a5a5" stroke-width="0.7" />
<line x1="615.05" y1="143.31" x2="615.05" y2="170.12" stroke="#a5a5a5" stroke-width="0.7" />
<line x1="613.85" y1="143.31" x2="616.25" y2="143.31" stroke="#a5a5a5" stroke-width="0.7" />
<line x1="613.85" y1="170.12" x2="616.25" y2="170.12" stroke="#a5a5a5" stroke-width="0.7" />
<line x1="635.80" y1="138.19" x2="635.80" y2="163.42" stroke="#a5a5a5" stroke-width="0.7" />
<line x1="634.60" y1="138.19" x2="637.00" y2="138.19" stroke="#a5a5a5" stroke-width="0.7" />
<line x1="634.60" y1="163.42" x2="637.00" y2="163.42" stroke="#a5a5a5" stroke-width="0.7" />
<line x1="428.30" y1="171.70" x2="428.30" y2="193.77" stroke="#777" stroke-width="0.7" />
<line x1="427.10" y1="171.70" x2="429.50" y2="171.70" stroke="#777" stroke-width="0.7" />
<line x1="427.10" y1="193.77" x2="429.50" y2="193.77" stroke="#777" stroke-width="0.7" />
<line x1="449.05" y1="165.78" x2="449.05" y2="194.17" stroke="#777" stroke-width="0.7" />
<line x1="447.85" y1="165.78" x2="450.25" y2="165.78" stroke="#777" stroke-width="0.7" />
<line x1="447.85" y1="194.17" x2="450.25" y2="194.17" stroke="#777" stroke-width="0.7" />
<line x1="469.80" y1="163.42" x2="469.80" y2="193.38" stroke="#777" stroke-width="0.7" />
<line x1="468.60" y1="163.42" x2="471.00" y2="163.42" stroke="#777" stroke-width="0.7" />
<line x1="468.60" y1="193.38" x2="471.00" y2="193.38" stroke="#777" stroke-width="0.7" />
<line x1="490.55" y1="162.23" x2="490.55" y2="192.20" stroke="#777" stroke-width="0.7" />
<line x1="489.35" y1="162.23" x2="491.75" y2="162.23" stroke="#777" stroke-width="0.7" />
<line x1="489.35" y1="192.20" x2="491.75" y2="192.20" stroke="#777" stroke-width="0.7" />
<line x1="511.30" y1="162.23" x2="511.30" y2="185.89" stroke="#777" stroke-width="0.7" />
<line x1="510.10" y1="162.23" x2="512.50" y2="162.23" stroke="#777" stroke-width="0.7" />
<line x1="510.10" y1="185.89" x2="512.50" y2="185.89" stroke="#777" stroke-width="0.7" />
<line x1="532.05" y1="159.08" x2="532.05" y2="182.74" stroke="#777" stroke-width="0.7" />
<line x1="530.85" y1="159.08" x2="533.25" y2="159.08" stroke="#777" stroke-width="0.7" />
<line x1="530.85" y1="182.74" x2="533.25" y2="182.74" stroke="#777" stroke-width="0.7" />
<line x1="552.80" y1="158.29" x2="552.80" y2="178.79" stroke="#777" stroke-width="0.7" />
<line x1="551.60" y1="158.29" x2="554.00" y2="158.29" stroke="#777" stroke-width="0.7" />
<line x1="551.60" y1="178.79" x2="554.00" y2="178.79" stroke="#777" stroke-width="0.7" />
<line x1="573.55" y1="158.29" x2="573.55" y2="175.64" stroke="#777" stroke-width="0.7" />
<line x1="572.35" y1="158.29" x2="574.75" y2="158.29" stroke="#777" stroke-width="0.7" />
<line x1="572.35" y1="175.64" x2="574.75" y2="175.64" stroke="#777" stroke-width="0.7" />
<line x1="594.30" y1="157.11" x2="594.30" y2="172.88" stroke="#777" stroke-width="0.7" />
<line x1="593.10" y1="157.11" x2="595.50" y2="157.11" stroke="#777" stroke-width="0.7" />
<line x1="593.10" y1="172.88" x2="595.50" y2="172.88" stroke="#777" stroke-width="0.7" />
<line x1="615.05" y1="154.74" x2="615.05" y2="170.51" stroke="#777" stroke-width="0.7" />
<line x1="613.85" y1="154.74" x2="616.25" y2="154.74" stroke="#777" stroke-width="0.7" />
<line x1="613.85" y1="170.51" x2="616.25" y2="170.51" stroke="#777" stroke-width="0.7" />
<line x1="635.80" y1="156.32" x2="635.80" y2="164.21" stroke="#777" stroke-width="0.7" />
<line x1="634.60" y1="156.32" x2="637.00" y2="156.32" stroke="#777" stroke-width="0.7" />
<line x1="634.60" y1="164.21" x2="637.00" y2="164.21" stroke="#777" stroke-width="0.7" />
<line x1="428.30" y1="163.02" x2="428.30" y2="188.26" stroke="#a5a5a5" stroke-width="0.7" />
<line x1="427.10" y1="163.02" x2="429.50" y2="163.02" stroke="#a5a5a5" stroke-width="0.7" />
<line x1="427.10" y1="188.26" x2="429.50" y2="188.26" stroke="#a5a5a5" stroke-width="0.7" />
<line x1="449.05" y1="155.14" x2="449.05" y2="186.68" stroke="#a5a5a5" stroke-width="0.7" />
<line x1="447.85" y1="155.14" x2="450.25" y2="155.14" stroke="#a5a5a5" stroke-width="0.7" />
<line x1="447.85" y1="186.68" x2="450.25" y2="186.68" stroke="#a5a5a5" stroke-width="0.7" />
<line x1="469.80" y1="150.41" x2="469.80" y2="181.95" stroke="#a5a5a5" stroke-width="0.7" />
<line x1="468.60" y1="150.41" x2="471.00" y2="150.41" stroke="#a5a5a5" stroke-width="0.7" />
<line x1="468.60" y1="181.95" x2="471.00" y2="181.95" stroke="#a5a5a5" stroke-width="0.7" />
<line x1="490.55" y1="149.62" x2="490.55" y2="181.16" stroke="#a5a5a5" stroke-width="0.7" />
<line x1="489.35" y1="149.62" x2="491.75" y2="149.62" stroke="#a5a5a5" stroke-width="0.7" />
<line x1="489.35" y1="181.16" x2="491.75" y2="181.16" stroke="#a5a5a5" stroke-width="0.7" />
<line x1="511.30" y1="150.41" x2="511.30" y2="178.79" stroke="#a5a5a5" stroke-width="0.7" />
<line x1="510.10" y1="150.41" x2="512.50" y2="150.41" stroke="#a5a5a5" stroke-width="0.7" />
<line x1="510.10" y1="178.79" x2="512.50" y2="178.79" stroke="#a5a5a5" stroke-width="0.7" />
<line x1="532.05" y1="146.47" x2="532.05" y2="174.85" stroke="#a5a5a5" stroke-width="0.7" />
<line x1="530.85" y1="146.47" x2="533.25" y2="146.47" stroke="#a5a5a5" stroke-width="0.7" />
<line x1="530.85" y1="174.85" x2="533.25" y2="174.85" stroke="#a5a5a5" stroke-width="0.7" />
<line x1="552.80" y1="143.31" x2="552.80" y2="170.12" stroke="#a5a5a5" stroke-width="0.7" />
<line x1="551.60" y1="143.31" x2="554.00" y2="143.31" stroke="#a5a5a5" stroke-width="0.7" />
<line x1="551.60" y1="170.12" x2="554.00" y2="170.12" stroke="#a5a5a5" stroke-width="0.7" />
<line x1="573.55" y1="140.16" x2="573.55" y2="165.39" stroke="#a5a5a5" stroke-width="0.7" />
<line x1="572.35" y1="140.16" x2="574.75" y2="140.16" stroke="#a5a5a5" stroke-width="0.7" />
<line x1="572.35" y1="165.39" x2="574.75" y2="165.39" stroke="#a5a5a5" stroke-width="0.7" />
<line x1="594.30" y1="136.61" x2="594.30" y2="161.84" stroke="#a5a5a5" stroke-width="0.7" />
<line x1="593.10" y1="136.61" x2="595.50" y2="136.61" stroke="#a5a5a5" stroke-width="0.7" />
<line x1="593.10" y1="161.84" x2="595.50" y2="161.84" stroke="#a5a5a5" stroke-width="0.7" />
<line x1="615.05" y1="134.64" x2="615.05" y2="158.29" stroke="#a5a5a5" stroke-width="0.7" />
<line x1="613.85" y1="134.64" x2="616.25" y2="134.64" stroke="#a5a5a5" stroke-width="0.7" />
<line x1="613.85" y1="158.29" x2="616.25" y2="158.29" stroke="#a5a5a5" stroke-width="0.7" />
<line x1="635.80" y1="132.67" x2="635.80" y2="156.32" stroke="#a5a5a5" stroke-width="0.7" />
<line x1="634.60" y1="132.67" x2="637.00" y2="132.67" stroke="#a5a5a5" stroke-width="0.7" />
<line x1="634.60" y1="156.32" x2="637.00" y2="156.32" stroke="#a5a5a5" stroke-width="0.7" />
<polyline points="428.30,176.43 449.05,171.70 469.80,166.57 490.55,163.02 511.30,156.72 532.05,151.20 552.80,146.47 573.55,138.97 594.30,132.27 615.05,126.36 635.80,123.20" fill="none" stroke="#4f4f4f" stroke-width="1.2" stroke-linejoin="round"/>
<rect x="426.40" y="174.53" width="3.80" height="3.80" fill="#4f4f4f" stroke="none" stroke-width="1" />
<rect x="447.15" y="169.80" width="3.80" height="3.80" fill="#4f4f4f" stroke="none" stroke-width="1" />
<rect x="467.90" y="164.67" width="3.80" height="3.80" fill="#4f4f4f" stroke="none" stroke-width="1" />
<rect x="488.65" y="161.12" width="3.80" height="3.80" fill="#4f4f4f" stroke="none" stroke-width="1" />
<rect x="509.40" y="154.82" width="3.80" height="3.80" fill="#4f4f4f" stroke="none" stroke-width="1" />
<rect x="530.15" y="149.30" width="3.80" height="3.80" fill="#4f4f4f" stroke="none" stroke-width="1" />
<rect x="550.90" y="144.56" width="3.80" height="3.80" fill="#4f4f4f" stroke="none" stroke-width="1" />
<rect x="571.65" y="137.07" width="3.80" height="3.80" fill="#4f4f4f" stroke="none" stroke-width="1" />
<rect x="592.40" y="130.37" width="3.80" height="3.80" fill="#4f4f4f" stroke="none" stroke-width="1" />
<rect x="613.15" y="124.46" width="3.80" height="3.80" fill="#4f4f4f" stroke="none" stroke-width="1" />
<rect x="633.90" y="121.30" width="3.80" height="3.80" fill="#4f4f4f" stroke="none" stroke-width="1" />
<polyline points="428.30,187.47 449.05,181.95 469.80,173.27 490.55,165.78 511.30,159.87 532.05,155.93 552.80,151.98 573.55,148.44 594.30,146.47 615.05,145.68 635.80,139.37" fill="none" stroke="#b5b5b5" stroke-width="1.2" stroke-linejoin="round"/>
<path d="M428.30,184.87 L430.90,187.47 L428.30,190.07 L425.70,187.47 Z" fill="#b5b5b5"/>
<path d="M449.05,179.35 L451.65,181.95 L449.05,184.55 L446.45,181.95 Z" fill="#b5b5b5"/>
<path d="M469.80,170.67 L472.40,173.27 L469.80,175.87 L467.20,173.27 Z" fill="#b5b5b5"/>
<path d="M490.55,163.18 L493.15,165.78 L490.55,168.38 L487.95,165.78 Z" fill="#b5b5b5"/>
<path d="M511.30,157.27 L513.90,159.87 L511.30,162.47 L508.70,159.87 Z" fill="#b5b5b5"/>
<path d="M532.05,153.33 L534.65,155.93 L532.05,158.53 L529.45,155.93 Z" fill="#b5b5b5"/>
<path d="M552.80,149.38 L555.40,151.98 L552.80,154.58 L550.20,151.98 Z" fill="#b5b5b5"/>
<path d="M573.55,145.84 L576.15,148.44 L573.55,151.04 L570.95,148.44 Z" fill="#b5b5b5"/>
<path d="M594.30,143.87 L596.90,146.47 L594.30,149.06 L591.70,146.47 Z" fill="#b5b5b5"/>
<path d="M615.05,143.08 L617.65,145.68 L615.05,148.28 L612.45,145.68 Z" fill="#b5b5b5"/>
<path d="M635.80,136.77 L638.40,139.37 L635.80,141.97 L633.20,139.37 Z" fill="#b5b5b5"/>
<polyline points="428.30,191.41 449.05,185.10 469.80,181.16 490.55,178.79 511.30,170.12 532.05,167.36 552.80,164.60 573.55,161.84 594.30,158.29 615.05,156.72 635.80,150.80" fill="none" stroke="#8a8a8a" stroke-width="1.2" stroke-linejoin="round"/>
<circle cx="428.30" cy="191.41" r="1.90" fill="#8a8a8a"/>
<circle cx="449.05" cy="185.10" r="1.90" fill="#8a8a8a"/>
<circle cx="469.80" cy="181.16" r="1.90" fill="#8a8a8a"/>
<circle cx="490.55" cy="178.79" r="1.90" fill="#8a8a8a"/>
<circle cx="511.30" cy="170.12" r="1.90" fill="#8a8a8a"/>
<circle cx="532.05" cy="167.36" r="1.90" fill="#8a8a8a"/>
<circle cx="552.80" cy="164.60" r="1.90" fill="#8a8a8a"/>
<circle cx="573.55" cy="161.84" r="1.90" fill="#8a8a8a"/>
<circle cx="594.30" cy="158.29" r="1.90" fill="#8a8a8a"/>
<circle cx="615.05" cy="156.72" r="1.90" fill="#8a8a8a"/>
<circle cx="635.80" cy="150.80" r="1.90" fill="#8a8a8a"/>
<polyline points="428.30,182.74 449.05,179.98 469.80,178.40 490.55,177.22 511.30,174.06 532.05,170.91 552.80,168.54 573.55,166.97 594.30,164.99 615.05,162.63 635.80,160.26" fill="none" stroke="#161616" stroke-width="1.6" stroke-linejoin="round"/>
<circle cx="428.30" cy="182.74" r="1.70" fill="#161616"/>
<circle cx="449.05" cy="179.98" r="1.70" fill="#161616"/>
<circle cx="469.80" cy="178.40" r="1.70" fill="#161616"/>
<circle cx="490.55" cy="177.22" r="1.70" fill="#161616"/>
<circle cx="511.30" cy="174.06" r="1.70" fill="#161616"/>
<circle cx="532.05" cy="170.91" r="1.70" fill="#161616"/>
<circle cx="552.80" cy="168.54" r="1.70" fill="#161616"/>
<circle cx="573.55" cy="166.97" r="1.70" fill="#161616"/>
<circle cx="594.30" cy="164.99" r="1.70" fill="#161616"/>
<circle cx="615.05" cy="162.63" r="1.70" fill="#161616"/>
<circle cx="635.80" cy="160.26" r="1.70" fill="#161616"/>
<polyline points="428.30,175.64 449.05,170.91 469.80,166.18 490.55,165.39 511.30,164.60 532.05,160.66 552.80,156.72 573.55,152.77 594.30,149.22 615.05,146.47 635.80,144.49" fill="none" stroke="#d4d4d4" stroke-width="1.6" stroke-linejoin="round"/>
<circle cx="428.30" cy="175.64" r="1.90" fill="#d4d4d4"/>
<circle cx="449.05" cy="170.91" r="1.90" fill="#d4d4d4"/>
<circle cx="469.80" cy="166.18" r="1.90" fill="#d4d4d4"/>
<circle cx="490.55" cy="165.39" r="1.90" fill="#d4d4d4"/>
<circle cx="511.30" cy="164.60" r="1.90" fill="#d4d4d4"/>
<circle cx="532.05" cy="160.66" r="1.90" fill="#d4d4d4"/>
<circle cx="552.80" cy="156.72" r="1.90" fill="#d4d4d4"/>
<circle cx="573.55" cy="152.77" r="1.90" fill="#d4d4d4"/>
<circle cx="594.30" cy="149.22" r="1.90" fill="#d4d4d4"/>
<circle cx="615.05" cy="146.47" r="1.90" fill="#d4d4d4"/>
<circle cx="635.80" cy="144.49" r="1.90" fill="#d4d4d4"/>
<line x1="428.40" y1="86.00" x2="438.90" y2="86.00" stroke="#4f4f4f" stroke-width="1.2" />
<rect x="431.94" y="84.29" width="3.42" height="3.42" fill="#4f4f4f" stroke="none" stroke-width="1" />
<text x="439.80" y="88.60" font-family='"Liberation Serif", serif' font-size="7.86" text-anchor="start" font-weight="normal" fill="#1a1a1a" stroke="#222" stroke-width="0.18">HFD</text>
<line x1="428.40" y1="95.00" x2="438.90" y2="95.00" stroke="#b5b5b5" stroke-width="1.2" />
<path d="M433.65,92.66 L435.99,95.00 L433.65,97.34 L431.31,95.00 Z" fill="#b5b5b5"/>
<text x="439.80" y="97.60" font-family='"Liberation Serif", serif' font-size="7.86" text-anchor="start" font-weight="normal" fill="#1a1a1a" stroke="#222" stroke-width="0.18">HFD+GVL</text>
<line x1="428.40" y1="103.70" x2="438.90" y2="103.70" stroke="#8a8a8a" stroke-width="1.2" />
<circle cx="433.65" cy="103.70" r="1.71" fill="#8a8a8a"/>
<text x="439.80" y="106.30" font-family='"Liberation Serif", serif' font-size="7.86" text-anchor="start" font-weight="normal" fill="#1a1a1a" stroke="#222" stroke-width="0.18">HFD+GVM</text>
<line x1="428.40" y1="112.30" x2="438.90" y2="112.30" stroke="#161616" stroke-width="1.6" />
<circle cx="433.65" cy="112.30" r="1.53" fill="#161616"/>
<text x="439.80" y="114.90" font-family='"Liberation Serif", serif' font-size="7.86" text-anchor="start" font-weight="normal" fill="#1a1a1a" stroke="#222" stroke-width="0.18">HFD+GVH</text>
<line x1="428.40" y1="121.00" x2="438.90" y2="121.00" stroke="#d4d4d4" stroke-width="1.6" />
<circle cx="433.65" cy="121.00" r="1.71" fill="#d4d4d4"/>
<text x="439.80" y="123.60" font-family='"Liberation Serif", serif' font-size="7.86" text-anchor="start" font-weight="normal" fill="#1a1a1a" stroke="#222" stroke-width="0.18">HFD+acetic acid</text>
<text x="497.80" y="183.74" font-family='"Liberation Serif", serif' font-size="6.9" text-anchor="middle" font-weight="normal" fill="#1a1a1a" stroke="#1a1a1a" stroke-width="0.1">*</text>
<text x="520.20" y="180.04" font-family='"Liberation Serif", serif' font-size="6.9" text-anchor="middle" font-weight="normal" fill="#1a1a1a" stroke="#1a1a1a" stroke-width="0.1">**</text>
<text x="536.80" y="167.04" font-family='"Liberation Serif", serif' font-size="6.9" text-anchor="middle" font-weight="normal" fill="#1a1a1a" stroke="#1a1a1a" stroke-width="0.1">*</text>
<text x="539.40" y="176.64" font-family='"Liberation Serif", serif' font-size="6.9" text-anchor="middle" font-weight="normal" fill="#1a1a1a" stroke="#1a1a1a" stroke-width="0.1">**</text>
<text x="556.90" y="164.94" font-family='"Liberation Serif", serif' font-size="6.9" text-anchor="middle" font-weight="normal" fill="#1a1a1a" stroke="#1a1a1a" stroke-width="0.1">*</text>
<text x="559.00" y="175.14" font-family='"Liberation Serif", serif' font-size="6.9" text-anchor="middle" font-weight="normal" fill="#1a1a1a" stroke="#1a1a1a" stroke-width="0.1">**</text>
<text x="579.20" y="155.84" font-family='"Liberation Serif", serif' font-size="6.9" text-anchor="middle" font-weight="normal" fill="#1a1a1a" stroke="#1a1a1a" stroke-width="0.1">*</text>
<text x="580.70" y="161.24" font-family='"Liberation Serif", serif' font-size="6.9" text-anchor="middle" font-weight="normal" fill="#1a1a1a" stroke="#1a1a1a" stroke-width="0.1">**</text>
<text x="580.70" y="172.34" font-family='"Liberation Serif", serif' font-size="6.9" text-anchor="middle" font-weight="normal" fill="#1a1a1a" stroke="#1a1a1a" stroke-width="0.1">**</text>
<text x="601.80" y="152.14" font-family='"Liberation Serif", serif' font-size="6.9" text-anchor="middle" font-weight="normal" fill="#1a1a1a" stroke="#1a1a1a" stroke-width="0.1">**</text>
<text x="600.30" y="159.84" font-family='"Liberation Serif", serif' font-size="6.9" text-anchor="middle" font-weight="normal" fill="#1a1a1a" stroke="#1a1a1a" stroke-width="0.1">**</text>
<text x="602.80" y="170.34" font-family='"Liberation Serif", serif' font-size="6.9" text-anchor="middle" font-weight="normal" fill="#1a1a1a" stroke="#1a1a1a" stroke-width="0.1">**</text>
<text x="621.70" y="144.04" font-family='"Liberation Serif", serif' font-size="6.9" text-anchor="middle" font-weight="normal" fill="#1a1a1a" stroke="#1a1a1a" stroke-width="0.1">**</text>
<text x="622.50" y="149.44" font-family='"Liberation Serif", serif' font-size="6.9" text-anchor="middle" font-weight="normal" fill="#1a1a1a" stroke="#1a1a1a" stroke-width="0.1">**</text>
<text x="622.50" y="154.64" font-family='"Liberation Serif", serif' font-size="6.9" text-anchor="middle" font-weight="normal" fill="#1a1a1a" stroke="#1a1a1a" stroke-width="0.1">**</text>
<text x="622.00" y="167.94" font-family='"Liberation Serif", serif' font-size="6.9" text-anchor="middle" font-weight="normal" fill="#1a1a1a" stroke="#1a1a1a" stroke-width="0.1">**</text>
<text x="641.70" y="135.84" font-family='"Liberation Serif", serif' font-size="6.9" text-anchor="middle" font-weight="normal" fill="#1a1a1a" stroke="#1a1a1a" stroke-width="0.1">*</text>
<text x="642.70" y="145.44" font-family='"Liberation Serif", serif' font-size="6.9" text-anchor="middle" font-weight="normal" fill="#1a1a1a" stroke="#1a1a1a" stroke-width="0.1">**</text>
<text x="643.20" y="153.14" font-family='"Liberation Serif", serif' font-size="6.9" text-anchor="middle" font-weight="normal" fill="#1a1a1a" stroke="#1a1a1a" stroke-width="0.1">**</text>
<text x="643.20" y="163.24" font-family='"Liberation Serif", serif' font-size="6.9" text-anchor="middle" font-weight="normal" fill="#1a1a1a" stroke="#1a1a1a" stroke-width="0.1">**</text>
<rect x="114.70" y="350.21" width="16.30" height="113.09" fill="#808080" stroke="none" stroke-width="1" />
<rect x="166.80" y="346.87" width="16.30" height="116.43" fill="#808080" stroke="none" stroke-width="1" />
<rect x="218.20" y="350.54" width="16.30" height="112.76" fill="#808080" stroke="none" stroke-width="1" />
<rect x="269.80" y="347.21" width="16.30" height="116.09" fill="#808080" stroke="none" stroke-width="1" />
<rect x="321.40" y="347.21" width="16.30" height="116.09" fill="#808080" stroke="none" stroke-width="1" />
<line x1="122.85" y1="334.20" x2="122.85" y2="366.89" stroke="#666" stroke-width="0.65" />
<line x1="121.75" y1="334.20" x2="123.95" y2="334.20" stroke="#666" stroke-width="0.65" />
<line x1="121.75" y1="366.89" x2="123.95" y2="366.89" stroke="#666" stroke-width="0.65" />
<line x1="174.95" y1="329.19" x2="174.95" y2="364.55" stroke="#666" stroke-width="0.65" />
<line x1="173.85" y1="329.19" x2="176.05" y2="329.19" stroke="#666" stroke-width="0.65" />
<line x1="173.85" y1="364.55" x2="176.05" y2="364.55" stroke="#666" stroke-width="0.65" />
<line x1="226.35" y1="326.52" x2="226.35" y2="374.90" stroke="#666" stroke-width="0.65" />
<line x1="225.25" y1="326.52" x2="227.45" y2="326.52" stroke="#666" stroke-width="0.65" />
<line x1="225.25" y1="374.90" x2="227.45" y2="374.90" stroke="#666" stroke-width="0.65" />
<line x1="277.95" y1="323.19" x2="277.95" y2="371.56" stroke="#666" stroke-width="0.65" />
<line x1="276.85" y1="323.19" x2="279.05" y2="323.19" stroke="#666" stroke-width="0.65" />
<line x1="276.85" y1="371.56" x2="279.05" y2="371.56" stroke="#666" stroke-width="0.65" />
<line x1="329.55" y1="323.86" x2="329.55" y2="370.56" stroke="#666" stroke-width="0.65" />
<line x1="328.45" y1="323.86" x2="330.65" y2="323.86" stroke="#666" stroke-width="0.65" />
<line x1="328.45" y1="370.56" x2="330.65" y2="370.56" stroke="#666" stroke-width="0.65" />
<line x1="96.10" y1="296.50" x2="356.00" y2="296.50" stroke="#2a2a2a" stroke-width="1.0" />
<line x1="355.50" y1="296.50" x2="355.50" y2="463.90" stroke="#2a2a2a" stroke-width="1.0" />
<line x1="96.00" y1="463.30" x2="356.00" y2="463.30" stroke="#5e5e5e" stroke-width="1.2" />
<line x1="96.60" y1="296.50" x2="96.60" y2="463.90" stroke="#555" stroke-width="1.2" />
<line x1="94.20" y1="463.30" x2="96.60" y2="463.30" stroke="#555" stroke-width="0.8" />
<text x="91.00" y="466.40" font-family='"Liberation Serif", serif' font-size="8.0" text-anchor="end" font-weight="normal" fill="#222" stroke="#222" stroke-width="0.14">0.0</text>
<line x1="94.20" y1="429.94" x2="96.60" y2="429.94" stroke="#555" stroke-width="0.8" />
<text x="91.00" y="433.04" font-family='"Liberation Serif", serif' font-size="8.0" text-anchor="end" font-weight="normal" fill="#222" stroke="#222" stroke-width="0.14">1.0</text>
<line x1="94.20" y1="396.58" x2="96.60" y2="396.58" stroke="#555" stroke-width="0.8" />
<text x="91.00" y="399.68" font-family='"Liberation Serif", serif' font-size="8.0" text-anchor="end" font-weight="normal" fill="#222" stroke="#222" stroke-width="0.14">2.0</text>
<line x1="94.20" y1="363.22" x2="96.60" y2="363.22" stroke="#555" stroke-width="0.8" />
<text x="91.00" y="366.32" font-family='"Liberation Serif", serif' font-size="8.0" text-anchor="end" font-weight="normal" fill="#222" stroke="#222" stroke-width="0.14">3.0</text>
<line x1="94.20" y1="329.86" x2="96.60" y2="329.86" stroke="#555" stroke-width="0.8" />
<text x="91.00" y="332.96" font-family='"Liberation Serif", serif' font-size="8.0" text-anchor="end" font-weight="normal" fill="#222" stroke="#222" stroke-width="0.14">4.0</text>
<line x1="94.20" y1="296.50" x2="96.60" y2="296.50" stroke="#555" stroke-width="0.8" />
<text x="91.00" y="299.60" font-family='"Liberation Serif", serif' font-size="8.0" text-anchor="end" font-weight="normal" fill="#222" stroke="#222" stroke-width="0.14">5.0</text>
<text x="122.85" y="475.70" font-family='"Liberation Serif", serif' font-size="8.2" text-anchor="middle" font-weight="normal" fill="#222" stroke="#222" stroke-width="0.14">HFD</text>
<text x="174.95" y="475.70" font-family='"Liberation Serif", serif' font-size="8.2" text-anchor="middle" font-weight="normal" fill="#222" stroke="#222" stroke-width="0.14">HFD+GVL</text>
<text x="226.35" y="475.70" font-family='"Liberation Serif", serif' font-size="8.2" text-anchor="middle" font-weight="normal" fill="#222" stroke="#222" stroke-width="0.14">HFD+GVM</text>
<text x="277.95" y="475.70" font-family='"Liberation Serif", serif' font-size="8.2" text-anchor="middle" font-weight="normal" fill="#222" stroke="#222" stroke-width="0.14">HFD+GVH</text>
<text x="329.55" y="475.70" font-family='"Liberation Serif", serif' font-size="8.2" text-anchor="middle" font-weight="normal" fill="#222" stroke="#222" stroke-width="0.14">HFD+</text>
<text x="329.55" y="485.20" font-family='"Liberation Serif", serif' font-size="8.2" text-anchor="middle" font-weight="normal" fill="#222" stroke="#222" stroke-width="0.14">acetic acid</text>
<text transform="translate(66.50,382.70) rotate(-90)" font-family='"Liberation Serif", serif' font-size="8.2" text-anchor="middle" font-weight="normal" fill="#222" stroke="#222" stroke-width="0.14">Food intake (g/mouse/day)</text>
<rect x="424.20" y="340.48" width="15.60" height="120.52" fill="#5a5a5a" stroke="none" stroke-width="1" />
<rect x="474.70" y="348.00" width="15.60" height="113.00" fill="#5a5a5a" stroke="none" stroke-width="1" />
<rect x="524.90" y="345.71" width="15.60" height="115.29" fill="#5a5a5a" stroke="none" stroke-width="1" />
<rect x="575.70" y="342.44" width="15.70" height="118.56" fill="#5a5a5a" stroke="none" stroke-width="1" />
<rect x="626.20" y="347.02" width="15.80" height="113.98" fill="#5a5a5a" stroke="none" stroke-width="1" />
<line x1="432.00" y1="322.19" x2="432.00" y2="340.48" stroke="#9a9a9a" stroke-width="0.7" />
<line x1="431.00" y1="322.19" x2="433.00" y2="322.19" stroke="#9a9a9a" stroke-width="0.7" />
<line x1="482.50" y1="326.11" x2="482.50" y2="348.00" stroke="#9a9a9a" stroke-width="0.7" />
<line x1="481.50" y1="326.11" x2="483.50" y2="326.11" stroke="#9a9a9a" stroke-width="0.7" />
<line x1="532.70" y1="323.17" x2="532.70" y2="345.71" stroke="#9a9a9a" stroke-width="0.7" />
<line x1="531.70" y1="323.17" x2="533.70" y2="323.17" stroke="#9a9a9a" stroke-width="0.7" />
<line x1="583.55" y1="319.26" x2="583.55" y2="342.44" stroke="#9a9a9a" stroke-width="0.7" />
<line x1="582.55" y1="319.26" x2="584.55" y2="319.26" stroke="#9a9a9a" stroke-width="0.7" />
<line x1="634.10" y1="325.46" x2="634.10" y2="347.02" stroke="#9a9a9a" stroke-width="0.7" />
<line x1="633.10" y1="325.46" x2="635.10" y2="325.46" stroke="#9a9a9a" stroke-width="0.7" />
<line x1="405.30" y1="297.70" x2="660.10" y2="297.70" stroke="#2a2a2a" stroke-width="1.0" />
<line x1="659.60" y1="297.70" x2="659.60" y2="461.65" stroke="#2a2a2a" stroke-width="1.0" />
<line x1="405.25" y1="461.00" x2="660.10" y2="461.00" stroke="#8c8c8c" stroke-width="1.3" />
<line x1="405.80" y1="297.70" x2="405.80" y2="461.65" stroke="#333" stroke-width="1.1" />
<line x1="403.40" y1="461.00" x2="405.80" y2="461.00" stroke="#333" stroke-width="0.8" />
<text x="399.80" y="464.10" font-family='"Liberation Serif", serif' font-size="7.7" text-anchor="end" font-weight="normal" fill="#222" stroke="#222" stroke-width="0.14">0.0</text>
<line x1="403.40" y1="428.34" x2="405.80" y2="428.34" stroke="#333" stroke-width="0.8" />
<text x="399.80" y="431.44" font-family='"Liberation Serif", serif' font-size="7.7" text-anchor="end" font-weight="normal" fill="#222" stroke="#222" stroke-width="0.14">1.0</text>
<line x1="403.40" y1="395.68" x2="405.80" y2="395.68" stroke="#333" stroke-width="0.8" />
<text x="399.80" y="398.78" font-family='"Liberation Serif", serif' font-size="7.7" text-anchor="end" font-weight="normal" fill="#222" stroke="#222" stroke-width="0.14">2.0</text>
<line x1="403.40" y1="363.02" x2="405.80" y2="363.02" stroke="#333" stroke-width="0.8" />
<text x="399.80" y="366.12" font-family='"Liberation Serif", serif' font-size="7.7" text-anchor="end" font-weight="normal" fill="#222" stroke="#222" stroke-width="0.14">3.0</text>
<line x1="403.40" y1="330.36" x2="405.80" y2="330.36" stroke="#333" stroke-width="0.8" />
<text x="399.80" y="333.46" font-family='"Liberation Serif", serif' font-size="7.7" text-anchor="end" font-weight="normal" fill="#222" stroke="#222" stroke-width="0.14">4.0</text>
<line x1="403.40" y1="297.70" x2="405.80" y2="297.70" stroke="#333" stroke-width="0.8" />
<text x="399.80" y="300.80" font-family='"Liberation Serif", serif' font-size="7.7" text-anchor="end" font-weight="normal" fill="#222" stroke="#222" stroke-width="0.14">5.0</text>
<text x="432.00" y="472.80" font-family='"Liberation Serif", serif' font-size="8.1" text-anchor="middle" font-weight="normal" fill="#222" stroke="#222" stroke-width="0.14">HFD</text>
<text x="482.50" y="472.80" font-family='"Liberation Serif", serif' font-size="8.1" text-anchor="middle" font-weight="normal" fill="#222" stroke="#222" stroke-width="0.14">HFD+GVL</text>
<text x="532.70" y="472.80" font-family='"Liberation Serif", serif' font-size="8.1" text-anchor="middle" font-weight="normal" fill="#222" stroke="#222" stroke-width="0.14">HFD+GVM</text>
<text x="583.55" y="472.80" font-family='"Liberation Serif", serif' font-size="8.1" text-anchor="middle" font-weight="normal" fill="#222" stroke="#222" stroke-width="0.14">HFD+GVH</text>
<text x="634.10" y="472.80" font-family='"Liberation Serif", serif' font-size="8.1" text-anchor="middle" font-weight="normal" fill="#222" stroke="#222" stroke-width="0.14">HFD+</text>
<text x="634.10" y="482.20" font-family='"Liberation Serif", serif' font-size="8.1" text-anchor="middle" font-weight="normal" fill="#222" stroke="#222" stroke-width="0.14">acetic acid</text>
<text transform="translate(376.50,379.70) rotate(-90)" font-family='"Liberation Serif", serif' font-size="7.8" text-anchor="middle" font-weight="normal" fill="#222" stroke="#222" stroke-width="0.14">Food intake (g/mouse.day)</text>
<rect x="117.00" y="545.03" width="17.50" height="136.87" fill="#a6a6a6" stroke="none" stroke-width="1" />
<rect x="166.90" y="550.35" width="17.30" height="131.55" fill="#a6a6a6" stroke="none" stroke-width="1" />
<rect x="216.70" y="563.30" width="17.30" height="118.60" fill="#a6a6a6" stroke="none" stroke-width="1" />
<rect x="266.50" y="569.62" width="17.30" height="112.28" fill="#a6a6a6" stroke="none" stroke-width="1" />
<rect x="316.30" y="569.28" width="17.30" height="112.62" fill="#a6a6a6" stroke="none" stroke-width="1" />
<line x1="125.75" y1="543.37" x2="125.75" y2="546.69" stroke="#5a5a5a" stroke-width="0.8" />
<line x1="124.35" y1="543.37" x2="127.15" y2="543.37" stroke="#5a5a5a" stroke-width="0.8" />
<line x1="124.35" y1="546.69" x2="127.15" y2="546.69" stroke="#5a5a5a" stroke-width="0.8" />
<line x1="175.55" y1="548.16" x2="175.55" y2="552.54" stroke="#5a5a5a" stroke-width="0.8" />
<line x1="174.15" y1="548.16" x2="176.95" y2="548.16" stroke="#5a5a5a" stroke-width="0.8" />
<line x1="174.15" y1="552.54" x2="176.95" y2="552.54" stroke="#5a5a5a" stroke-width="0.8" />
<line x1="225.35" y1="560.98" x2="225.35" y2="565.63" stroke="#5a5a5a" stroke-width="0.8" />
<line x1="223.95" y1="560.98" x2="226.75" y2="560.98" stroke="#5a5a5a" stroke-width="0.8" />
<line x1="223.95" y1="565.63" x2="226.75" y2="565.63" stroke="#5a5a5a" stroke-width="0.8" />
<line x1="275.15" y1="566.96" x2="275.15" y2="572.27" stroke="#5a5a5a" stroke-width="0.8" />
<line x1="273.75" y1="566.96" x2="276.55" y2="566.96" stroke="#5a5a5a" stroke-width="0.8" />
<line x1="273.75" y1="572.27" x2="276.55" y2="572.27" stroke="#5a5a5a" stroke-width="0.8" />
<line x1="324.95" y1="566.96" x2="324.95" y2="571.61" stroke="#5a5a5a" stroke-width="0.8" />
<line x1="323.55" y1="566.96" x2="326.35" y2="566.96" stroke="#5a5a5a" stroke-width="0.8" />
<line x1="323.55" y1="571.61" x2="326.35" y2="571.61" stroke="#5a5a5a" stroke-width="0.8" />
<line x1="99.60" y1="515.80" x2="350.10" y2="515.80" stroke="#333" stroke-width="1.6" />
<line x1="349.30" y1="515.80" x2="349.30" y2="682.70" stroke="#333" stroke-width="1.6" />
<line x1="99.60" y1="681.90" x2="350.10" y2="681.90" stroke="#333" stroke-width="1.6" />
<line x1="100.40" y1="515.80" x2="100.40" y2="682.70" stroke="#333" stroke-width="1.6" />
<line x1="98.00" y1="681.90" x2="100.40" y2="681.90" stroke="#333" stroke-width="0.8" />
<text x="93.80" y="685.00" font-family='"Liberation Serif", serif' font-size="9.7" text-anchor="end" font-weight="normal" fill="#222" stroke="#222" stroke-width="0.14">0.0</text>
<line x1="98.00" y1="648.68" x2="100.40" y2="648.68" stroke="#333" stroke-width="0.8" />
<text x="93.80" y="651.78" font-family='"Liberation Serif", serif' font-size="9.7" text-anchor="end" font-weight="normal" fill="#222" stroke="#222" stroke-width="0.14">10.0</text>
<line x1="98.00" y1="615.46" x2="100.40" y2="615.46" stroke="#333" stroke-width="0.8" />
<text x="93.80" y="618.56" font-family='"Liberation Serif", serif' font-size="9.7" text-anchor="end" font-weight="normal" fill="#222" stroke="#222" stroke-width="0.14">20.0</text>
<line x1="98.00" y1="582.24" x2="100.40" y2="582.24" stroke="#333" stroke-width="0.8" />
<text x="93.80" y="585.34" font-family='"Liberation Serif", serif' font-size="9.7" text-anchor="end" font-weight="normal" fill="#222" stroke="#222" stroke-width="0.14">30.0</text>
<line x1="98.00" y1="549.02" x2="100.40" y2="549.02" stroke="#333" stroke-width="0.8" />
<text x="93.80" y="552.12" font-family='"Liberation Serif", serif' font-size="9.7" text-anchor="end" font-weight="normal" fill="#222" stroke="#222" stroke-width="0.14">40.0</text>
<line x1="98.00" y1="515.80" x2="100.40" y2="515.80" stroke="#333" stroke-width="0.8" />
<text x="93.80" y="518.90" font-family='"Liberation Serif", serif' font-size="9.7" text-anchor="end" font-weight="normal" fill="#222" stroke="#222" stroke-width="0.14">50.0</text>
<text x="125.75" y="694.80" font-family='"Liberation Serif", serif' font-size="8.5" text-anchor="middle" font-weight="normal" fill="#222" stroke="#222" stroke-width="0.14">HFD</text>
<text x="175.55" y="694.80" font-family='"Liberation Serif", serif' font-size="8.5" text-anchor="middle" font-weight="normal" fill="#222" stroke="#222" stroke-width="0.14">HFD+GVL</text>
<text x="225.35" y="694.80" font-family='"Liberation Serif", serif' font-size="8.5" text-anchor="middle" font-weight="normal" fill="#222" stroke="#222" stroke-width="0.14">HFD+GVM</text>
<text x="275.15" y="694.80" font-family='"Liberation Serif", serif' font-size="8.5" text-anchor="middle" font-weight="normal" fill="#222" stroke="#222" stroke-width="0.14">HFD+GVH</text>
<text x="324.95" y="694.80" font-family='"Liberation Serif", serif' font-size="8.5" text-anchor="middle" font-weight="normal" fill="#222" stroke="#222" stroke-width="0.14">HFD+</text>
<text x="324.95" y="704.20" font-family='"Liberation Serif", serif' font-size="8.5" text-anchor="middle" font-weight="normal" fill="#222" stroke="#222" stroke-width="0.14">acetic acid</text>
<text transform="translate(64.00,595.80) rotate(-90)" font-family='"Liberation Serif", serif' font-size="9.7" text-anchor="middle" font-weight="normal" fill="#222" stroke="#222" stroke-width="0.14">Final body weight gain (g)</text>
<text x="125.75" y="540.90" font-family='"Liberation Serif", serif' font-size="9.5" text-anchor="middle" font-weight="normal" fill="#222" stroke="#222" stroke-width="0.14">a</text>
<text x="175.55" y="546.00" font-family='"Liberation Serif", serif' font-size="9.5" text-anchor="middle" font-weight="normal" fill="#222" stroke="#222" stroke-width="0.14">a</text>
<text x="225.35" y="558.40" font-family='"Liberation Serif", serif' font-size="9.5" text-anchor="middle" font-weight="normal" fill="#222" stroke="#222" stroke-width="0.14">b</text>
<text x="275.15" y="565.40" font-family='"Liberation Serif", serif' font-size="9.5" text-anchor="middle" font-weight="normal" fill="#222" stroke="#222" stroke-width="0.14">b</text>
<text x="324.95" y="565.40" font-family='"Liberation Serif", serif' font-size="9.5" text-anchor="middle" font-weight="normal" fill="#222" stroke="#222" stroke-width="0.14">b</text>
<rect x="437.90" y="545.00" width="14.80" height="135.40" fill="#5a5a5a" stroke="none" stroke-width="1" />
<rect x="485.20" y="550.72" width="14.80" height="129.68" fill="#5a5a5a" stroke="none" stroke-width="1" />
<rect x="532.80" y="554.87" width="14.80" height="125.53" fill="#5a5a5a" stroke="none" stroke-width="1" />
<rect x="580.10" y="558.19" width="14.80" height="122.21" fill="#5a5a5a" stroke="none" stroke-width="1" />
<rect x="627.40" y="552.38" width="15.00" height="128.02" fill="#5a5a5a" stroke="none" stroke-width="1" />
<line x1="445.30" y1="539.74" x2="445.30" y2="545.00" stroke="#9a9a9a" stroke-width="0.8" />
<line x1="444.30" y1="539.74" x2="446.30" y2="539.74" stroke="#9a9a9a" stroke-width="0.8" />
<line x1="492.60" y1="547.96" x2="492.60" y2="550.72" stroke="#9a9a9a" stroke-width="0.8" />
<line x1="491.60" y1="547.96" x2="493.60" y2="547.96" stroke="#9a9a9a" stroke-width="0.8" />
<line x1="540.20" y1="549.34" x2="540.20" y2="554.87" stroke="#9a9a9a" stroke-width="0.8" />
<line x1="539.20" y1="549.34" x2="541.20" y2="549.34" stroke="#9a9a9a" stroke-width="0.8" />
<line x1="587.50" y1="556.53" x2="587.50" y2="558.19" stroke="#9a9a9a" stroke-width="0.8" />
<line x1="586.50" y1="556.53" x2="588.50" y2="556.53" stroke="#9a9a9a" stroke-width="0.8" />
<line x1="634.90" y1="547.96" x2="634.90" y2="552.38" stroke="#9a9a9a" stroke-width="0.8" />
<line x1="633.90" y1="547.96" x2="635.90" y2="547.96" stroke="#9a9a9a" stroke-width="0.8" />
<line x1="420.10" y1="514.50" x2="658.90" y2="514.50" stroke="#2a2a2a" stroke-width="1.0" />
<line x1="658.40" y1="514.50" x2="658.40" y2="681.05" stroke="#2a2a2a" stroke-width="1.0" />
<line x1="420.05" y1="680.40" x2="658.90" y2="680.40" stroke="#8c8c8c" stroke-width="1.3" />
<line x1="420.60" y1="514.50" x2="420.60" y2="681.05" stroke="#333" stroke-width="1.1" />
<line x1="418.20" y1="680.40" x2="420.60" y2="680.40" stroke="#333" stroke-width="0.8" />
<text x="414.60" y="683.50" font-family='"Liberation Serif", serif' font-size="8.5" text-anchor="end" font-weight="normal" fill="#222" stroke="#222" stroke-width="0.14">0.0</text>
<line x1="418.20" y1="652.75" x2="420.60" y2="652.75" stroke="#333" stroke-width="0.8" />
<text x="414.60" y="655.85" font-family='"Liberation Serif", serif' font-size="8.5" text-anchor="end" font-weight="normal" fill="#222" stroke="#222" stroke-width="0.14">10.0</text>
<line x1="418.20" y1="625.10" x2="420.60" y2="625.10" stroke="#333" stroke-width="0.8" />
<text x="414.60" y="628.20" font-family='"Liberation Serif", serif' font-size="8.5" text-anchor="end" font-weight="normal" fill="#222" stroke="#222" stroke-width="0.14">20.0</text>
<line x1="418.20" y1="597.45" x2="420.60" y2="597.45" stroke="#333" stroke-width="0.8" />
<text x="414.60" y="600.55" font-family='"Liberation Serif", serif' font-size="8.5" text-anchor="end" font-weight="normal" fill="#222" stroke="#222" stroke-width="0.14">30.0</text>
<line x1="418.20" y1="569.80" x2="420.60" y2="569.80" stroke="#333" stroke-width="0.8" />
<text x="414.60" y="572.90" font-family='"Liberation Serif", serif' font-size="8.5" text-anchor="end" font-weight="normal" fill="#222" stroke="#222" stroke-width="0.14">40.0</text>
<line x1="418.20" y1="542.15" x2="420.60" y2="542.15" stroke="#333" stroke-width="0.8" />
<text x="414.60" y="545.25" font-family='"Liberation Serif", serif' font-size="8.5" text-anchor="end" font-weight="normal" fill="#222" stroke="#222" stroke-width="0.14">50.0</text>
<line x1="418.20" y1="514.50" x2="420.60" y2="514.50" stroke="#333" stroke-width="0.8" />
<text x="414.60" y="517.60" font-family='"Liberation Serif", serif' font-size="8.5" text-anchor="end" font-weight="normal" fill="#222" stroke="#222" stroke-width="0.14">60.0</text>
<text x="445.30" y="693.20" font-family='"Liberation Serif", serif' font-size="7.85" text-anchor="middle" font-weight="normal" fill="#222" stroke="#222" stroke-width="0.14">HFD</text>
<text x="492.60" y="693.20" font-family='"Liberation Serif", serif' font-size="7.85" text-anchor="middle" font-weight="normal" fill="#222" stroke="#222" stroke-width="0.14">HFD+GVL</text>
<text x="540.20" y="693.20" font-family='"Liberation Serif", serif' font-size="7.85" text-anchor="middle" font-weight="normal" fill="#222" stroke="#222" stroke-width="0.14">HFD+GVM</text>
<text x="587.50" y="693.20" font-family='"Liberation Serif", serif' font-size="7.85" text-anchor="middle" font-weight="normal" fill="#222" stroke="#222" stroke-width="0.14">HFD+GVH</text>
<text x="634.90" y="693.20" font-family='"Liberation Serif", serif' font-size="7.85" text-anchor="middle" font-weight="normal" fill="#222" stroke="#222" stroke-width="0.14">HFD+</text>
<text x="634.90" y="702.80" font-family='"Liberation Serif", serif' font-size="7.85" text-anchor="middle" font-weight="normal" fill="#222" stroke="#222" stroke-width="0.14">acetic acid</text>
<text transform="translate(383.00,604.40) rotate(-90)" font-family='"Liberation Serif", serif' font-size="9.65" text-anchor="middle" font-weight="normal" fill="#222" stroke="#222" stroke-width="0.14">Final body weight gain (g)</text>
<text x="445.30" y="538.10" font-family='"Liberation Serif", serif' font-size="9.4" text-anchor="middle" font-weight="normal" fill="#222" stroke="#222" stroke-width="0.14">a</text>
<text x="492.60" y="547.30" font-family='"Liberation Serif", serif' font-size="9.4" text-anchor="middle" font-weight="normal" fill="#222" stroke="#222" stroke-width="0.14">b</text>
<text x="540.20" y="547.30" font-family='"Liberation Serif", serif' font-size="9.4" text-anchor="middle" font-weight="normal" fill="#222" stroke="#222" stroke-width="0.14">cd</text>
<text x="587.50" y="554.40" font-family='"Liberation Serif", serif' font-size="9.4" text-anchor="middle" font-weight="normal" fill="#222" stroke="#222" stroke-width="0.14">d</text>
<text x="634.90" y="547.00" font-family='"Liberation Serif", serif' font-size="9.4" text-anchor="middle" font-weight="normal" fill="#222" stroke="#222" stroke-width="0.14">bc</text>
</svg>
</body>
</html>
